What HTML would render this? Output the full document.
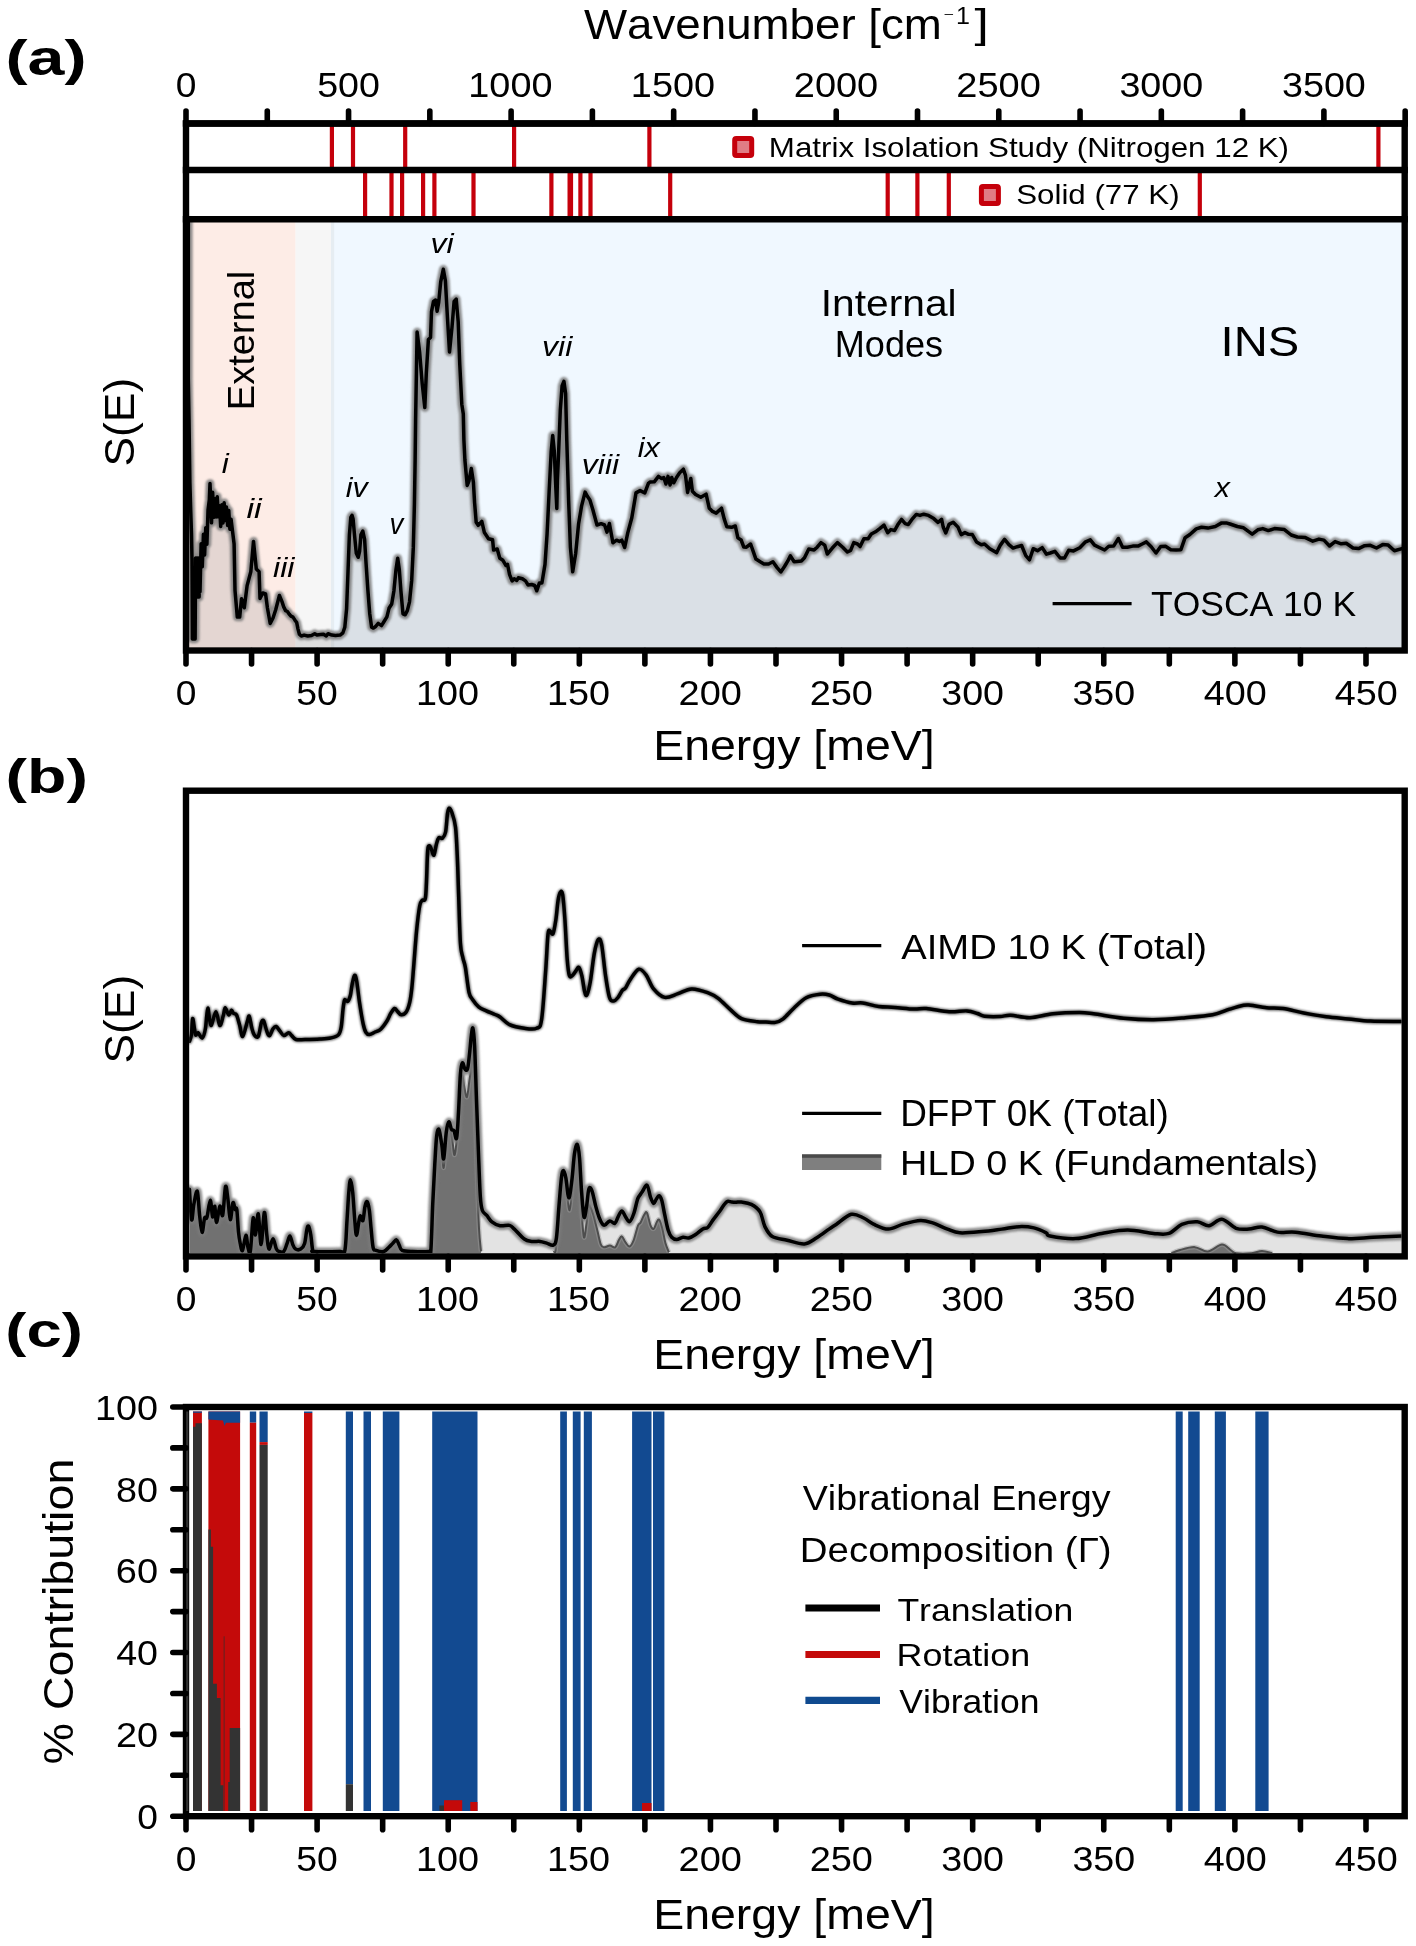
<!DOCTYPE html>
<html><head><meta charset="utf-8"><title>figure</title>
<style>
html,body{margin:0;padding:0;background:#fff;}
svg{display:block;will-change:transform;}
text{font-family:"Liberation Sans", sans-serif;font-kerning:none;}
</style></head>
<body>
<svg xmlns="http://www.w3.org/2000/svg" width="1416" height="1946" viewBox="0 0 1416 1946">
<rect width="1416" height="1946" fill="#fff"/>
<rect x="186" y="219.3" width="109.6" height="431.2" fill="#fdece6"/>
<rect x="295.6" y="219.3" width="35.4" height="431.2" fill="#f6f6f6"/>
<rect x="331" y="219.3" width="1073.7" height="431.2" fill="#f0f8ff"/>
<rect x="331" y="219.3" width="3.2" height="431.2" fill="#e6edf2"/>
<polygon points="188.3,647.3 188.3,221 188.3,378 189,419 189.9,483 190.7,510 191.5,534 192,560 192.4,639 192.85,568 193.3,639 193.75,568 194.2,639 194.65,568 195.1,639 195.6,558 196.1,597 196.6,558 197.1,597 197.6,558 198.1,597 198.6,558 199.1,597 199.6,558 200,591.76 201.15,543.87 202.3,566.75 203.45,534.27 204.6,555.03 205.75,527.79 206.9,544.14 208.05,509.62 209.3,500 210,483.5 210.7,500 211.5,522.85 212.65,492.28 213.8,517.27 214.95,498.84 216.1,516.96 217.25,496.75 218.4,516.86 219.55,505.69 220.7,526.52 221.85,504.77 223,522.93 224.15,502.85 225.3,520.5 226.45,507.11 227.6,525.47 228.75,510.46 229.9,529.24 231.05,519.21 234.1,544 235,590.3 237.3,617 239.7,617 241.5,598.7 244.3,607.8 247.1,585.6 250.8,571.8 253.5,541.4 256.3,569 259.1,571.8 260,598.5 262.8,593 265.6,594 267.4,607.8 270.2,623.5 273,618 275.7,609.7 279.4,595.5 281.9,601.4 283.7,606.9 285.6,610.6 287.4,611.5 289.3,614.3 291.1,616.2 293,617.1 294.8,619.9 296.7,622.6 298,629.1 299.4,634.2 301.3,636 304.1,635.1 307.8,636 311.5,635.5 314.7,633.7 317,635.1 320.7,634.6 323.5,634.2 326.3,636 328.1,633.7 331.8,635.1 335.5,635.5 340.1,635.1 342.9,632.8 344.8,627.3 346.6,608.8 348,571.8 349.4,534.8 350.8,517.3 352,515.3 353.1,519.1 354.5,534.8 356.3,553.3 358.2,557.3 359.6,551.4 360.9,534.8 362.8,531 364.6,539.4 366,562.5 367.9,590.3 369.7,613.4 371.6,627.2 373.4,628.1 375.3,626.8 378.2,623.4 381.5,625.6 383.6,622.3 386.9,616.9 389,608.3 391.7,604 393.9,591 396,569.4 397.7,558.3 399.3,569.4 400.9,591 403,613.8 405.2,614.8 407.4,610.4 409.5,601.8 411.7,580.2 413.3,547.9 414.4,504.7 415.1,461.6 415.6,420 416.4,373.3 417.1,332 419.7,352.8 422.2,383.6 424.8,407.5 426.3,373.3 428.4,339.4 430.5,337.4 431.5,311.7 433.5,301.4 435.6,300 437.1,311.2 438.7,302.4 440.7,281.8 443.3,269.3 445.4,280.8 447.4,316.8 449.5,352 452,327.1 454.1,301.4 456.2,299.1 458.2,321.9 459.7,363 461.8,404.2 463.3,414 463.9,440 464.9,460 467.2,485.4 468.9,481 471.3,468.5 473.4,482.2 474.6,502.8 476.2,522.3 478.2,525.4 481.8,521.3 484.4,532.6 488.5,538.7 492.6,539.8 493.6,550.1 497.2,549 499.8,558.3 502.9,560.3 506,565.5 507.5,564.4 509.6,574.7 512.1,580.9 514.2,578.8 516.8,580.4 518.3,577.8 522.4,578.8 525.5,580.9 528.1,585 531.7,584.5 534.7,585.5 536.8,590.8 539.4,582.9 541.9,583 545,564.4 547.1,533.6 549.1,492.5 551.2,451.4 552.7,435.4 554.3,451.4 555.8,487.4 556.8,508.5 557.4,480 558.6,452.7 560.3,410 562.1,386 563.9,381.3 565.6,393.6 566.8,440.9 568.6,500 570.4,547.3 572.7,571.8 575.7,553.2 578.6,523.7 581.6,505.9 585.1,492.1 587.5,496.5 589.9,500 592.8,509.5 597,525 601.1,523.7 604.6,525 607,532.1 609.4,523.5 612.9,542.8 616.5,540.2 619.4,541.4 621.8,540.2 624.7,547.5 627.7,533.1 631.8,517.8 636,492.9 640.1,490.6 644.8,492.9 648.4,483.3 650,482 654.2,481.8 658.5,476.4 661.7,478.6 663.8,477.5 665.9,484 668,476.4 670.1,485 671.7,477.5 673.8,482.8 676.5,477.5 679.7,472.8 683.4,469.2 685.5,475.4 687.6,492.4 689.2,485 690.8,478.5 692.4,491.3 695.6,494.5 700.8,497.2 706.1,494.2 709.3,508.3 712.5,511.4 716.2,513.1 721.5,508.2 724.2,518.9 726.8,526.8 731.6,527.3 735.3,526 737.9,537.9 741.1,540 743.8,547 746.4,547.2 750.6,544 753.3,551.7 755.9,559.1 760.2,561.8 763.9,564 768.6,564 772.9,561.8 777.1,567.6 780.8,571.9 784.5,566.5 787.7,561.2 790.4,555.9 794.1,561.8 797.1,561.5 801.4,561 804.5,557.8 808.8,549 814.1,549.9 817.2,547.2 821,542.6 824.7,545.1 827.3,554 832.1,548.3 837.4,542.6 842.7,547.2 847.4,552 850.6,550.4 853.8,542.6 857.5,544 860.1,546.6 863.9,538.8 868.1,538.7 871.3,534 875.5,531.8 879.7,528.7 884,525.2 887.7,532.8 890.9,529.6 894.6,530.5 898.3,523.9 901.5,519.4 905.2,523.6 908.3,524.6 912.6,518.6 916.3,514.4 920,515.4 923.7,514.2 928.5,515.4 933.8,518.6 938,522.4 941.6,519.4 943.2,527 945.8,533 949,524.4 953.2,522.2 958,527.1 961.2,534.6 964.9,532.6 968.6,534.3 972.3,534.5 976.5,541.9 981.3,544.8 984.5,544 989.8,548.8 996.7,552.6 1000.4,545.1 1004.6,539.3 1008.9,544.6 1013.1,548.1 1017.3,546.7 1021.6,545.5 1025.8,555.7 1029.5,559.8 1033.2,548.7 1037.5,550.7 1042.2,547.6 1046.5,554.2 1050.2,553 1054.9,551.3 1060.2,558 1064.5,558 1068.7,550.3 1073.5,550.9 1079.8,547.7 1085.1,542.2 1090.3,539.8 1094.5,545.1 1099.8,547.7 1104.6,550 1108.8,546.3 1113.6,546.1 1118.4,538.5 1122.6,547.3 1127.4,547.2 1132.7,546.1 1138,546.1 1142.2,544 1146.4,541.9 1151.2,546.7 1156,553 1160.7,546.5 1165.5,546.3 1170.8,549.7 1176.1,549.9 1180.9,549.7 1185.1,537.7 1189.9,534.5 1196.2,528.9 1201.5,527.3 1207.9,528.1 1215.3,526.5 1221.7,522.9 1227,523.1 1230,524 1237.4,526.5 1243.6,527.8 1252.2,534.2 1257.8,529.8 1262.8,528.6 1268.3,530.6 1274.5,528.6 1284.4,529.6 1291.2,535 1297.4,537 1305.4,537.6 1312.8,541.2 1319,539.1 1323.9,540.1 1329.5,546 1335.1,541.6 1341.2,543.8 1346.2,543.2 1353,548 1358.6,548.6 1364.7,545.7 1370.3,545.3 1376.5,548 1382.7,544.6 1388.2,545.1 1394.4,550.8 1402,548.6 1402,647.3" fill="#808080" fill-opacity="0.2"/>
<defs><filter id="bl1" x="-5%" y="-20%" width="110%" height="140%"><feGaussianBlur stdDeviation="1.1"/></filter></defs>
<polyline points="188.3,221 188.3,378 189,419 189.9,483 190.7,510 191.5,534 192,560 192.4,639 192.85,568 193.3,639 193.75,568 194.2,639 194.65,568 195.1,639 195.6,558 196.1,597 196.6,558 197.1,597 197.6,558 198.1,597 198.6,558 199.1,597 199.6,558 200,591.76 201.15,543.87 202.3,566.75 203.45,534.27 204.6,555.03 205.75,527.79 206.9,544.14 208.05,509.62 209.3,500 210,483.5 210.7,500 211.5,522.85 212.65,492.28 213.8,517.27 214.95,498.84 216.1,516.96 217.25,496.75 218.4,516.86 219.55,505.69 220.7,526.52 221.85,504.77 223,522.93 224.15,502.85 225.3,520.5 226.45,507.11 227.6,525.47 228.75,510.46 229.9,529.24 231.05,519.21 234.1,544 235,590.3 237.3,617 239.7,617 241.5,598.7 244.3,607.8 247.1,585.6 250.8,571.8 253.5,541.4 256.3,569 259.1,571.8 260,598.5 262.8,593 265.6,594 267.4,607.8 270.2,623.5 273,618 275.7,609.7 279.4,595.5 281.9,601.4 283.7,606.9 285.6,610.6 287.4,611.5 289.3,614.3 291.1,616.2 293,617.1 294.8,619.9 296.7,622.6 298,629.1 299.4,634.2 301.3,636 304.1,635.1 307.8,636 311.5,635.5 314.7,633.7 317,635.1 320.7,634.6 323.5,634.2 326.3,636 328.1,633.7 331.8,635.1 335.5,635.5 340.1,635.1 342.9,632.8 344.8,627.3 346.6,608.8 348,571.8 349.4,534.8 350.8,517.3 352,515.3 353.1,519.1 354.5,534.8 356.3,553.3 358.2,557.3 359.6,551.4 360.9,534.8 362.8,531 364.6,539.4 366,562.5 367.9,590.3 369.7,613.4 371.6,627.2 373.4,628.1 375.3,626.8 378.2,623.4 381.5,625.6 383.6,622.3 386.9,616.9 389,608.3 391.7,604 393.9,591 396,569.4 397.7,558.3 399.3,569.4 400.9,591 403,613.8 405.2,614.8 407.4,610.4 409.5,601.8 411.7,580.2 413.3,547.9 414.4,504.7 415.1,461.6 415.6,420 416.4,373.3 417.1,332 419.7,352.8 422.2,383.6 424.8,407.5 426.3,373.3 428.4,339.4 430.5,337.4 431.5,311.7 433.5,301.4 435.6,300 437.1,311.2 438.7,302.4 440.7,281.8 443.3,269.3 445.4,280.8 447.4,316.8 449.5,352 452,327.1 454.1,301.4 456.2,299.1 458.2,321.9 459.7,363 461.8,404.2 463.3,414 463.9,440 464.9,460 467.2,485.4 468.9,481 471.3,468.5 473.4,482.2 474.6,502.8 476.2,522.3 478.2,525.4 481.8,521.3 484.4,532.6 488.5,538.7 492.6,539.8 493.6,550.1 497.2,549 499.8,558.3 502.9,560.3 506,565.5 507.5,564.4 509.6,574.7 512.1,580.9 514.2,578.8 516.8,580.4 518.3,577.8 522.4,578.8 525.5,580.9 528.1,585 531.7,584.5 534.7,585.5 536.8,590.8 539.4,582.9 541.9,583 545,564.4 547.1,533.6 549.1,492.5 551.2,451.4 552.7,435.4 554.3,451.4 555.8,487.4 556.8,508.5 557.4,480 558.6,452.7 560.3,410 562.1,386 563.9,381.3 565.6,393.6 566.8,440.9 568.6,500 570.4,547.3 572.7,571.8 575.7,553.2 578.6,523.7 581.6,505.9 585.1,492.1 587.5,496.5 589.9,500 592.8,509.5 597,525 601.1,523.7 604.6,525 607,532.1 609.4,523.5 612.9,542.8 616.5,540.2 619.4,541.4 621.8,540.2 624.7,547.5 627.7,533.1 631.8,517.8 636,492.9 640.1,490.6 644.8,492.9 648.4,483.3 650,482 654.2,481.8 658.5,476.4 661.7,478.6 663.8,477.5 665.9,484 668,476.4 670.1,485 671.7,477.5 673.8,482.8 676.5,477.5 679.7,472.8 683.4,469.2 685.5,475.4 687.6,492.4 689.2,485 690.8,478.5 692.4,491.3 695.6,494.5 700.8,497.2 706.1,494.2 709.3,508.3 712.5,511.4 716.2,513.1 721.5,508.2 724.2,518.9 726.8,526.8 731.6,527.3 735.3,526 737.9,537.9 741.1,540 743.8,547 746.4,547.2 750.6,544 753.3,551.7 755.9,559.1 760.2,561.8 763.9,564 768.6,564 772.9,561.8 777.1,567.6 780.8,571.9 784.5,566.5 787.7,561.2 790.4,555.9 794.1,561.8 797.1,561.5 801.4,561 804.5,557.8 808.8,549 814.1,549.9 817.2,547.2 821,542.6 824.7,545.1 827.3,554 832.1,548.3 837.4,542.6 842.7,547.2 847.4,552 850.6,550.4 853.8,542.6 857.5,544 860.1,546.6 863.9,538.8 868.1,538.7 871.3,534 875.5,531.8 879.7,528.7 884,525.2 887.7,532.8 890.9,529.6 894.6,530.5 898.3,523.9 901.5,519.4 905.2,523.6 908.3,524.6 912.6,518.6 916.3,514.4 920,515.4 923.7,514.2 928.5,515.4 933.8,518.6 938,522.4 941.6,519.4 943.2,527 945.8,533 949,524.4 953.2,522.2 958,527.1 961.2,534.6 964.9,532.6 968.6,534.3 972.3,534.5 976.5,541.9 981.3,544.8 984.5,544 989.8,548.8 996.7,552.6 1000.4,545.1 1004.6,539.3 1008.9,544.6 1013.1,548.1 1017.3,546.7 1021.6,545.5 1025.8,555.7 1029.5,559.8 1033.2,548.7 1037.5,550.7 1042.2,547.6 1046.5,554.2 1050.2,553 1054.9,551.3 1060.2,558 1064.5,558 1068.7,550.3 1073.5,550.9 1079.8,547.7 1085.1,542.2 1090.3,539.8 1094.5,545.1 1099.8,547.7 1104.6,550 1108.8,546.3 1113.6,546.1 1118.4,538.5 1122.6,547.3 1127.4,547.2 1132.7,546.1 1138,546.1 1142.2,544 1146.4,541.9 1151.2,546.7 1156,553 1160.7,546.5 1165.5,546.3 1170.8,549.7 1176.1,549.9 1180.9,549.7 1185.1,537.7 1189.9,534.5 1196.2,528.9 1201.5,527.3 1207.9,528.1 1215.3,526.5 1221.7,522.9 1227,523.1 1230,524 1237.4,526.5 1243.6,527.8 1252.2,534.2 1257.8,529.8 1262.8,528.6 1268.3,530.6 1274.5,528.6 1284.4,529.6 1291.2,535 1297.4,537 1305.4,537.6 1312.8,541.2 1319,539.1 1323.9,540.1 1329.5,546 1335.1,541.6 1341.2,543.8 1346.2,543.2 1353,548 1358.6,548.6 1364.7,545.7 1370.3,545.3 1376.5,548 1382.7,544.6 1388.2,545.1 1394.4,550.8 1402,548.6" fill="none" stroke="#7a7a7a" stroke-opacity="0.85" stroke-width="8.6" stroke-linejoin="round" stroke-linecap="round" filter="url(#bl1)"/>
<polyline points="188.3,221 188.3,378 189,419 189.9,483 190.7,510 191.5,534 192,560 192.4,639 192.85,568 193.3,639 193.75,568 194.2,639 194.65,568 195.1,639 195.6,558 196.1,597 196.6,558 197.1,597 197.6,558 198.1,597 198.6,558 199.1,597 199.6,558 200,591.76 201.15,543.87 202.3,566.75 203.45,534.27 204.6,555.03 205.75,527.79 206.9,544.14 208.05,509.62 209.3,500 210,483.5 210.7,500 211.5,522.85 212.65,492.28 213.8,517.27 214.95,498.84 216.1,516.96 217.25,496.75 218.4,516.86 219.55,505.69 220.7,526.52 221.85,504.77 223,522.93 224.15,502.85 225.3,520.5 226.45,507.11 227.6,525.47 228.75,510.46 229.9,529.24 231.05,519.21 234.1,544 235,590.3 237.3,617 239.7,617 241.5,598.7 244.3,607.8 247.1,585.6 250.8,571.8 253.5,541.4 256.3,569 259.1,571.8 260,598.5 262.8,593 265.6,594 267.4,607.8 270.2,623.5 273,618 275.7,609.7 279.4,595.5 281.9,601.4 283.7,606.9 285.6,610.6 287.4,611.5 289.3,614.3 291.1,616.2 293,617.1 294.8,619.9 296.7,622.6 298,629.1 299.4,634.2 301.3,636 304.1,635.1 307.8,636 311.5,635.5 314.7,633.7 317,635.1 320.7,634.6 323.5,634.2 326.3,636 328.1,633.7 331.8,635.1 335.5,635.5 340.1,635.1 342.9,632.8 344.8,627.3 346.6,608.8 348,571.8 349.4,534.8 350.8,517.3 352,515.3 353.1,519.1 354.5,534.8 356.3,553.3 358.2,557.3 359.6,551.4 360.9,534.8 362.8,531 364.6,539.4 366,562.5 367.9,590.3 369.7,613.4 371.6,627.2 373.4,628.1 375.3,626.8 378.2,623.4 381.5,625.6 383.6,622.3 386.9,616.9 389,608.3 391.7,604 393.9,591 396,569.4 397.7,558.3 399.3,569.4 400.9,591 403,613.8 405.2,614.8 407.4,610.4 409.5,601.8 411.7,580.2 413.3,547.9 414.4,504.7 415.1,461.6 415.6,420 416.4,373.3 417.1,332 419.7,352.8 422.2,383.6 424.8,407.5 426.3,373.3 428.4,339.4 430.5,337.4 431.5,311.7 433.5,301.4 435.6,300 437.1,311.2 438.7,302.4 440.7,281.8 443.3,269.3 445.4,280.8 447.4,316.8 449.5,352 452,327.1 454.1,301.4 456.2,299.1 458.2,321.9 459.7,363 461.8,404.2 463.3,414 463.9,440 464.9,460 467.2,485.4 468.9,481 471.3,468.5 473.4,482.2 474.6,502.8 476.2,522.3 478.2,525.4 481.8,521.3 484.4,532.6 488.5,538.7 492.6,539.8 493.6,550.1 497.2,549 499.8,558.3 502.9,560.3 506,565.5 507.5,564.4 509.6,574.7 512.1,580.9 514.2,578.8 516.8,580.4 518.3,577.8 522.4,578.8 525.5,580.9 528.1,585 531.7,584.5 534.7,585.5 536.8,590.8 539.4,582.9 541.9,583 545,564.4 547.1,533.6 549.1,492.5 551.2,451.4 552.7,435.4 554.3,451.4 555.8,487.4 556.8,508.5 557.4,480 558.6,452.7 560.3,410 562.1,386 563.9,381.3 565.6,393.6 566.8,440.9 568.6,500 570.4,547.3 572.7,571.8 575.7,553.2 578.6,523.7 581.6,505.9 585.1,492.1 587.5,496.5 589.9,500 592.8,509.5 597,525 601.1,523.7 604.6,525 607,532.1 609.4,523.5 612.9,542.8 616.5,540.2 619.4,541.4 621.8,540.2 624.7,547.5 627.7,533.1 631.8,517.8 636,492.9 640.1,490.6 644.8,492.9 648.4,483.3 650,482 654.2,481.8 658.5,476.4 661.7,478.6 663.8,477.5 665.9,484 668,476.4 670.1,485 671.7,477.5 673.8,482.8 676.5,477.5 679.7,472.8 683.4,469.2 685.5,475.4 687.6,492.4 689.2,485 690.8,478.5 692.4,491.3 695.6,494.5 700.8,497.2 706.1,494.2 709.3,508.3 712.5,511.4 716.2,513.1 721.5,508.2 724.2,518.9 726.8,526.8 731.6,527.3 735.3,526 737.9,537.9 741.1,540 743.8,547 746.4,547.2 750.6,544 753.3,551.7 755.9,559.1 760.2,561.8 763.9,564 768.6,564 772.9,561.8 777.1,567.6 780.8,571.9 784.5,566.5 787.7,561.2 790.4,555.9 794.1,561.8 797.1,561.5 801.4,561 804.5,557.8 808.8,549 814.1,549.9 817.2,547.2 821,542.6 824.7,545.1 827.3,554 832.1,548.3 837.4,542.6 842.7,547.2 847.4,552 850.6,550.4 853.8,542.6 857.5,544 860.1,546.6 863.9,538.8 868.1,538.7 871.3,534 875.5,531.8 879.7,528.7 884,525.2 887.7,532.8 890.9,529.6 894.6,530.5 898.3,523.9 901.5,519.4 905.2,523.6 908.3,524.6 912.6,518.6 916.3,514.4 920,515.4 923.7,514.2 928.5,515.4 933.8,518.6 938,522.4 941.6,519.4 943.2,527 945.8,533 949,524.4 953.2,522.2 958,527.1 961.2,534.6 964.9,532.6 968.6,534.3 972.3,534.5 976.5,541.9 981.3,544.8 984.5,544 989.8,548.8 996.7,552.6 1000.4,545.1 1004.6,539.3 1008.9,544.6 1013.1,548.1 1017.3,546.7 1021.6,545.5 1025.8,555.7 1029.5,559.8 1033.2,548.7 1037.5,550.7 1042.2,547.6 1046.5,554.2 1050.2,553 1054.9,551.3 1060.2,558 1064.5,558 1068.7,550.3 1073.5,550.9 1079.8,547.7 1085.1,542.2 1090.3,539.8 1094.5,545.1 1099.8,547.7 1104.6,550 1108.8,546.3 1113.6,546.1 1118.4,538.5 1122.6,547.3 1127.4,547.2 1132.7,546.1 1138,546.1 1142.2,544 1146.4,541.9 1151.2,546.7 1156,553 1160.7,546.5 1165.5,546.3 1170.8,549.7 1176.1,549.9 1180.9,549.7 1185.1,537.7 1189.9,534.5 1196.2,528.9 1201.5,527.3 1207.9,528.1 1215.3,526.5 1221.7,522.9 1227,523.1 1230,524 1237.4,526.5 1243.6,527.8 1252.2,534.2 1257.8,529.8 1262.8,528.6 1268.3,530.6 1274.5,528.6 1284.4,529.6 1291.2,535 1297.4,537 1305.4,537.6 1312.8,541.2 1319,539.1 1323.9,540.1 1329.5,546 1335.1,541.6 1341.2,543.8 1346.2,543.2 1353,548 1358.6,548.6 1364.7,545.7 1370.3,545.3 1376.5,548 1382.7,544.6 1388.2,545.1 1394.4,550.8 1402,548.6" fill="none" stroke="#000" stroke-width="3.5" stroke-linejoin="round" stroke-linecap="round"/>
<line x1="331.9" y1="123.5" x2="331.9" y2="170" stroke="#c5000b" stroke-width="4.2"/>
<line x1="353" y1="123.5" x2="353" y2="170" stroke="#c5000b" stroke-width="4.2"/>
<line x1="405.2" y1="123.5" x2="405.2" y2="170" stroke="#c5000b" stroke-width="4.2"/>
<line x1="514.1" y1="123.5" x2="514.1" y2="170" stroke="#c5000b" stroke-width="4.2"/>
<line x1="649.4" y1="123.5" x2="649.4" y2="170" stroke="#c5000b" stroke-width="4.2"/>
<line x1="1378.4" y1="123.5" x2="1378.4" y2="170" stroke="#c5000b" stroke-width="4.2"/>
<line x1="365.1" y1="170" x2="365.1" y2="219.3" stroke="#c5000b" stroke-width="4.2"/>
<line x1="391.5" y1="170" x2="391.5" y2="219.3" stroke="#c5000b" stroke-width="4.2"/>
<line x1="402.1" y1="170" x2="402.1" y2="219.3" stroke="#c5000b" stroke-width="4.2"/>
<line x1="423.1" y1="170" x2="423.1" y2="219.3" stroke="#c5000b" stroke-width="4.2"/>
<line x1="434.4" y1="170" x2="434.4" y2="219.3" stroke="#c5000b" stroke-width="4.2"/>
<line x1="473.5" y1="170" x2="473.5" y2="219.3" stroke="#c5000b" stroke-width="4.2"/>
<line x1="551.4" y1="170" x2="551.4" y2="219.3" stroke="#c5000b" stroke-width="4.2"/>
<line x1="570.3" y1="170" x2="570.3" y2="219.3" stroke="#c5000b" stroke-width="5.6"/>
<line x1="580.4" y1="170" x2="580.4" y2="219.3" stroke="#c5000b" stroke-width="4.2"/>
<line x1="590.5" y1="170" x2="590.5" y2="219.3" stroke="#c5000b" stroke-width="4.2"/>
<line x1="670.2" y1="170" x2="670.2" y2="219.3" stroke="#c5000b" stroke-width="4.2"/>
<line x1="887.7" y1="170" x2="887.7" y2="219.3" stroke="#c5000b" stroke-width="4.2"/>
<line x1="917.4" y1="170" x2="917.4" y2="219.3" stroke="#c5000b" stroke-width="4.2"/>
<line x1="948.8" y1="170" x2="948.8" y2="219.3" stroke="#c5000b" stroke-width="4.2"/>
<line x1="1199.8" y1="170" x2="1199.8" y2="219.3" stroke="#c5000b" stroke-width="4.2"/>
<rect x="734.7" y="138.5" width="17" height="17" rx="1.5" fill="#e07c84" stroke="#c5000b" stroke-width="5"/>
<rect x="981.4" y="186.4" width="17" height="17" rx="1.5" fill="#e07c84" stroke="#c5000b" stroke-width="5"/>
<text transform="translate(768.83 156.6) scale(1.1709 1)" font-size="26.74" fill="#000">Matrix Isolation Study (Nitrogen 12 K)</text>
<text transform="translate(1016.18 204) scale(1.1270 1)" font-size="27.76" fill="#000">Solid (77 K)</text>
<line x1="182.8" y1="123.5" x2="1407.9" y2="123.5" stroke="#000" stroke-width="6.4"/>
<line x1="182.8" y1="170" x2="1407.9" y2="170" stroke="#000" stroke-width="6.4"/>
<line x1="182.8" y1="219.3" x2="1407.9" y2="219.3" stroke="#000" stroke-width="6.4"/>
<line x1="186" y1="123.5" x2="186" y2="111" stroke="#000" stroke-width="5.6" stroke-linecap="round"/>
<text transform="translate(175.66 96.85) scale(1.0450 1)" font-size="35.59" fill="#000">0</text>
<line x1="267.28" y1="123.5" x2="267.28" y2="111" stroke="#000" stroke-width="5.6" stroke-linecap="round"/>
<line x1="348.56" y1="123.5" x2="348.56" y2="111" stroke="#000" stroke-width="5.6" stroke-linecap="round"/>
<text transform="translate(317.16 96.85) scale(1.0567 1)" font-size="35.59" fill="#000">500</text>
<line x1="429.83" y1="123.5" x2="429.83" y2="111" stroke="#000" stroke-width="5.6" stroke-linecap="round"/>
<line x1="511.11" y1="123.5" x2="511.11" y2="111" stroke="#000" stroke-width="5.6" stroke-linecap="round"/>
<text transform="translate(468.29 96.85) scale(1.0639 1)" font-size="35.59" fill="#000">1000</text>
<line x1="592.39" y1="123.5" x2="592.39" y2="111" stroke="#000" stroke-width="5.6" stroke-linecap="round"/>
<line x1="673.67" y1="123.5" x2="673.67" y2="111" stroke="#000" stroke-width="5.6" stroke-linecap="round"/>
<text transform="translate(630.85 96.85) scale(1.0639 1)" font-size="35.59" fill="#000">1500</text>
<line x1="754.95" y1="123.5" x2="754.95" y2="111" stroke="#000" stroke-width="5.6" stroke-linecap="round"/>
<line x1="836.23" y1="123.5" x2="836.23" y2="111" stroke="#000" stroke-width="5.6" stroke-linecap="round"/>
<text transform="translate(793.77 96.85) scale(1.0671 1)" font-size="35.59" fill="#000">2000</text>
<line x1="917.5" y1="123.5" x2="917.5" y2="111" stroke="#000" stroke-width="5.6" stroke-linecap="round"/>
<line x1="998.78" y1="123.5" x2="998.78" y2="111" stroke="#000" stroke-width="5.6" stroke-linecap="round"/>
<text transform="translate(956.32 96.85) scale(1.0671 1)" font-size="35.59" fill="#000">2500</text>
<line x1="1080.06" y1="123.5" x2="1080.06" y2="111" stroke="#000" stroke-width="5.6" stroke-linecap="round"/>
<line x1="1161.34" y1="123.5" x2="1161.34" y2="111" stroke="#000" stroke-width="5.6" stroke-linecap="round"/>
<text transform="translate(1119.4 96.85) scale(1.0597 1)" font-size="35.59" fill="#000">3000</text>
<line x1="1242.62" y1="123.5" x2="1242.62" y2="111" stroke="#000" stroke-width="5.6" stroke-linecap="round"/>
<line x1="1323.9" y1="123.5" x2="1323.9" y2="111" stroke="#000" stroke-width="5.6" stroke-linecap="round"/>
<text transform="translate(1281.96 96.85) scale(1.0597 1)" font-size="35.59" fill="#000">3500</text>
<line x1="1405.17" y1="123.5" x2="1405.17" y2="111" stroke="#000" stroke-width="5.6" stroke-linecap="round"/>
<text transform="translate(584 38.8) scale(1.0653 1)" font-size="42.88" fill="#000">Wavenumber [cm</text>
<text transform="translate(942.95 17) scale(3.1200 1)" font-size="11.16" fill="#000">-</text>
<text transform="translate(956.09 24.3) scale(1.0508 1)" font-size="23.84" fill="#000">1</text>
<text transform="translate(974.6 37.8) scale(1.2524 1)" font-size="40.98" fill="#000">]</text>
<text transform="translate(5.49 74.78) scale(1.3478 1)" font-size="49.24" fill="#000" font-weight="bold">(a)</text>
<rect x="186" y="123.5" width="1218.7" height="527" fill="none" stroke="#000" stroke-width="6.4"/>
<line x1="186" y1="650.5" x2="186" y2="664" stroke="#000" stroke-width="5.6" stroke-linecap="round"/>
<text transform="translate(175.66 704.85) scale(1.0450 1)" font-size="35.59" fill="#000">0</text>
<line x1="251.56" y1="650.5" x2="251.56" y2="664" stroke="#000" stroke-width="5.6" stroke-linecap="round"/>
<line x1="317.11" y1="650.5" x2="317.11" y2="664" stroke="#000" stroke-width="5.6" stroke-linecap="round"/>
<text transform="translate(296.32 704.85) scale(1.0494 1)" font-size="35.59" fill="#000">50</text>
<line x1="382.66" y1="650.5" x2="382.66" y2="664" stroke="#000" stroke-width="5.6" stroke-linecap="round"/>
<line x1="448.22" y1="650.5" x2="448.22" y2="664" stroke="#000" stroke-width="5.6" stroke-linecap="round"/>
<text transform="translate(416 704.85) scale(1.0616 1)" font-size="35.59" fill="#000">100</text>
<line x1="513.77" y1="650.5" x2="513.77" y2="664" stroke="#000" stroke-width="5.6" stroke-linecap="round"/>
<line x1="579.33" y1="650.5" x2="579.33" y2="664" stroke="#000" stroke-width="5.6" stroke-linecap="round"/>
<text transform="translate(547.11 704.85) scale(1.0616 1)" font-size="35.59" fill="#000">150</text>
<line x1="644.88" y1="650.5" x2="644.88" y2="664" stroke="#000" stroke-width="5.6" stroke-linecap="round"/>
<line x1="710.44" y1="650.5" x2="710.44" y2="664" stroke="#000" stroke-width="5.6" stroke-linecap="round"/>
<text transform="translate(678.58 704.85) scale(1.0659 1)" font-size="35.59" fill="#000">200</text>
<line x1="776" y1="650.5" x2="776" y2="664" stroke="#000" stroke-width="5.6" stroke-linecap="round"/>
<line x1="841.55" y1="650.5" x2="841.55" y2="664" stroke="#000" stroke-width="5.6" stroke-linecap="round"/>
<text transform="translate(809.69 704.85) scale(1.0659 1)" font-size="35.59" fill="#000">250</text>
<line x1="907.11" y1="650.5" x2="907.11" y2="664" stroke="#000" stroke-width="5.6" stroke-linecap="round"/>
<line x1="972.66" y1="650.5" x2="972.66" y2="664" stroke="#000" stroke-width="5.6" stroke-linecap="round"/>
<text transform="translate(941.32 704.85) scale(1.0560 1)" font-size="35.59" fill="#000">300</text>
<line x1="1038.21" y1="650.5" x2="1038.21" y2="664" stroke="#000" stroke-width="5.6" stroke-linecap="round"/>
<line x1="1103.77" y1="650.5" x2="1103.77" y2="664" stroke="#000" stroke-width="5.6" stroke-linecap="round"/>
<text transform="translate(1072.43 704.85) scale(1.0560 1)" font-size="35.59" fill="#000">350</text>
<line x1="1169.32" y1="650.5" x2="1169.32" y2="664" stroke="#000" stroke-width="5.6" stroke-linecap="round"/>
<line x1="1234.88" y1="650.5" x2="1234.88" y2="664" stroke="#000" stroke-width="5.6" stroke-linecap="round"/>
<text transform="translate(1203.65 704.85) scale(1.0620 1)" font-size="35.59" fill="#000">400</text>
<line x1="1300.43" y1="650.5" x2="1300.43" y2="664" stroke="#000" stroke-width="5.6" stroke-linecap="round"/>
<line x1="1365.99" y1="650.5" x2="1365.99" y2="664" stroke="#000" stroke-width="5.6" stroke-linecap="round"/>
<text transform="translate(1334.76 704.85) scale(1.0620 1)" font-size="35.59" fill="#000">450</text>
<text transform="translate(653.19 759.8) scale(1.0805 1)" font-size="43.02" fill="#000">Energy [meV]</text>
<text transform="translate(133.6 466.52) rotate(-90) scale(1.0457 1)" font-size="42.44" fill="#000">S(E)</text>
<text transform="translate(254.3 410.22) rotate(-90) scale(1.0054 1)" font-size="37.81" fill="#000">External</text>
<text transform="translate(820.74 315.6) scale(1.1167 1)" font-size="36.48" fill="#000">Internal</text>
<text transform="translate(834.74 356.8) scale(0.9857 1)" font-size="36.63" fill="#000">Modes</text>
<text transform="translate(1220.55 355.6) scale(1.1345 1)" font-size="41.57" fill="#000">INS</text>
<line x1="1052.6" y1="603.6" x2="1131.6" y2="603.6" stroke="#000" stroke-width="3.3"/>
<text transform="translate(1151 615.6) scale(1.0263 1)" font-size="34.59" fill="#000">TOSCA 10 K</text>
<text transform="translate(221.69 473.4) scale(1.1768 1)" font-size="26.77" fill="#000" font-style="italic">i</text>
<text transform="translate(246.45 517.7) scale(1.2780 1)" font-size="26.91" fill="#000" font-style="italic">ii</text>
<text transform="translate(273.08 576.7) scale(1.1748 1)" font-size="27.33" fill="#000" font-style="italic">iii</text>
<text transform="translate(345.71 496.9) scale(1.1337 1)" font-size="26.91" fill="#000" font-style="italic">iv</text>
<text transform="translate(389.39 534.3) scale(0.9461 1)" font-size="29.15" fill="#000" font-style="italic">v</text>
<text transform="translate(430.54 252.8) scale(1.1542 1)" font-size="27.88" fill="#000" font-style="italic">vi</text>
<text transform="translate(542.05 355.8) scale(1.1599 1)" font-size="27.6" fill="#000" font-style="italic">vii</text>
<text transform="translate(581.85 473.5) scale(1.1739 1)" font-size="27.19" fill="#000" font-style="italic">viii</text>
<text transform="translate(637.81 457.3) scale(1.1429 1)" font-size="26.77" fill="#000" font-style="italic">ix</text>
<text transform="translate(1214.72 496.7) scale(1.0847 1)" font-size="28.01" fill="#000" font-style="italic">x</text>
<clipPath id="cb"><rect x="189.2" y="793.7" width="1212.3" height="459.3"/></clipPath>
<g clip-path="url(#cb)">
<path d="M189.2,1253 L189.4,1189.2 C189.77,1194.28 190.85,1217.25 191.6,1219.7 C192.35,1222.15 192.95,1208.63 193.9,1203.9 C194.85,1199.17 196.35,1189.42 197.3,1191.3 C198.25,1193.18 198.8,1208.37 199.6,1215.2 C200.4,1222.03 201.27,1231.83 202.1,1232.3 C202.93,1232.77 203.8,1220.47 204.6,1218 C205.4,1215.53 205.95,1220.45 206.9,1217.5 C207.85,1214.55 209.35,1200.4 210.3,1200.3 C211.25,1200.2 211.85,1215.92 212.6,1216.9 C213.35,1217.88 214.15,1205.27 214.8,1206.2 C215.45,1207.13 215.65,1222.5 216.5,1222.5 C217.35,1222.5 218.87,1207.42 219.9,1206.2 C220.93,1204.98 221.77,1218.43 222.7,1215.2 C223.63,1211.97 224.65,1189.63 225.5,1186.8 C226.35,1183.97 227,1192.72 227.8,1198.2 C228.6,1203.68 229.45,1218.93 230.3,1219.7 C231.15,1220.47 232.08,1204.5 232.9,1202.8 C233.72,1201.1 234.55,1208.38 235.2,1209.5 C235.85,1210.62 236.25,1205.73 236.8,1209.5 C237.35,1213.27 237.93,1226.45 238.5,1232.1 C239.07,1237.75 239.53,1240.33 240.2,1243.4 C240.87,1246.47 241.55,1251.85 242.5,1250.5 C243.45,1249.15 244.97,1235.72 245.9,1235.3 C246.83,1234.88 247.35,1245.38 248.1,1248 C248.85,1250.62 249.55,1256 250.4,1251 C251.25,1246 252.35,1220.67 253.2,1218 C254.05,1215.33 254.65,1235.68 255.5,1235 C256.35,1234.32 257.37,1212.3 258.3,1213.9 C259.23,1215.5 260.1,1244.83 261.1,1244.6 C262.1,1244.37 263.35,1214.1 264.3,1212.5 C265.25,1210.9 266.02,1228.9 266.8,1235 C267.58,1241.1 267.97,1248.48 269,1249.1 C270.03,1249.72 271.77,1238.7 273,1238.7 C274.23,1238.7 275.37,1246.97 276.4,1249.1 C277.43,1251.23 277.98,1251.1 279.2,1251.5 C280.42,1251.9 282.38,1252.85 283.7,1251.5 C285.02,1250.15 286.07,1246 287.1,1243.4 C288.13,1240.8 288.95,1235.7 289.9,1235.9 C290.85,1236.1 291.85,1242.4 292.8,1244.6 C293.75,1246.8 294.28,1248.35 295.6,1249.1 C296.92,1249.85 299.2,1250.05 300.7,1249.1 C302.2,1248.15 303.57,1246.7 304.6,1243.4 C305.63,1240.1 306.23,1232.15 306.9,1229.3 C307.57,1226.45 307.95,1225.35 308.6,1226.3 C309.25,1227.25 310.15,1231.2 310.8,1235 C311.45,1238.8 311.93,1246.35 312.5,1249.1 C313.07,1251.85 309.62,1251.1 314.2,1251.5 C318.78,1251.9 334.88,1251.7 340,1251.5 C345.12,1251.3 343.73,1255.45 344.9,1250.3 C346.07,1245.15 346.35,1230.25 347,1220.6 C347.65,1210.95 348.22,1199.22 348.8,1192.4 C349.38,1185.58 349.85,1179.7 350.5,1179.7 C351.15,1179.7 351.98,1185.58 352.7,1192.4 C353.42,1199.22 354.17,1213.43 354.8,1220.6 C355.43,1227.77 355.8,1235.4 356.5,1235.4 C357.2,1235.4 358.35,1223.88 359,1220.6 C359.65,1217.32 359.75,1215.7 360.4,1215.7 C361.05,1215.7 362.13,1222.13 362.9,1220.6 C363.67,1219.07 364.3,1209.67 365,1206.5 C365.7,1203.33 366.38,1201.02 367.1,1201.6 C367.82,1202.18 368.65,1205.65 369.3,1210 C369.95,1214.35 370.37,1221.45 371,1227.7 C371.63,1233.95 372.27,1243.73 373.1,1247.5 C373.93,1251.27 374.23,1249.63 376,1250.3 C377.77,1250.97 381.58,1251.97 383.7,1251.5 C385.82,1251.03 387.17,1248.88 388.7,1247.5 C390.23,1246.12 391.62,1244.48 392.9,1243.2 C394.18,1241.92 395.33,1239.45 396.4,1239.8 C397.47,1240.15 398.35,1243.55 399.3,1245.3 C400.25,1247.05 399.87,1249.27 402.1,1250.3 C404.33,1251.33 408.23,1251.3 412.7,1251.5 C417.17,1251.7 425.87,1251.75 428.9,1251.5 C431.93,1251.25 430.25,1258.15 430.9,1250 C431.55,1241.85 432.15,1216.93 432.8,1202.6 C433.45,1188.27 434.15,1175.13 434.8,1164 C435.45,1152.87 436,1141.53 436.7,1135.8 C437.4,1130.07 438.15,1128.1 439,1129.6 C439.85,1131.1 441.02,1139.95 441.8,1144.8 C442.58,1149.65 442.95,1160.83 443.7,1158.7 C444.45,1156.57 445.43,1138.13 446.3,1132 C447.17,1125.87 448.03,1122.33 448.9,1121.9 C449.77,1121.47 450.65,1127.93 451.5,1129.4 C452.35,1130.87 453.15,1129.23 454,1130.7 C454.85,1132.17 455.85,1141.2 456.6,1138.2 C457.35,1135.2 457.87,1123.37 458.5,1112.7 C459.13,1102.03 459.75,1082.52 460.4,1074.2 C461.05,1065.88 461.65,1063.67 462.4,1062.8 C463.15,1061.93 464.05,1067.97 464.9,1069 C465.75,1070.03 466.75,1071.35 467.5,1069 C468.25,1066.65 468.77,1060.45 469.4,1054.9 C470.03,1049.35 470.72,1040.15 471.3,1035.7 C471.88,1031.25 472.35,1026.5 472.9,1028.2 C473.45,1029.9 474,1033.95 474.6,1045.9 C475.2,1057.85 475.87,1082.35 476.5,1099.9 C477.13,1117.45 477.77,1135.17 478.4,1151.2 C479.03,1167.23 479.65,1186.25 480.3,1196.1 C480.95,1205.95 481.22,1207.08 482.3,1210.3 C483.38,1213.52 485.2,1213.48 486.8,1215.4 C488.4,1217.32 489.7,1220.08 491.9,1221.8 C494.1,1223.52 497.07,1225.1 500,1225.7 C502.93,1226.3 507.1,1224.83 509.5,1225.4 C511.9,1225.97 511.93,1226.83 514.4,1229.1 C516.87,1231.37 521.42,1236.95 524.3,1239 C527.18,1241.05 529.08,1241 531.7,1241.4 C534.32,1241.8 537.52,1241.12 540,1241.4 C542.48,1241.68 544.4,1242.48 546.6,1243.1 C548.8,1243.72 551.57,1245.92 553.2,1245.1 C554.83,1244.28 555.45,1244.57 556.4,1238.2 C557.35,1231.83 558.07,1216.92 558.9,1206.9 C559.73,1196.88 560.65,1184.15 561.4,1178.1 C562.15,1172.05 562.65,1170.6 563.4,1170.6 C564.15,1170.6 565.13,1174.1 565.9,1178.1 C566.67,1182.1 567.38,1191.55 568,1194.6 C568.62,1197.65 568.92,1199.15 569.6,1196.4 C570.28,1193.65 571.28,1185.25 572.1,1178.1 C572.92,1170.95 573.63,1159.13 574.5,1153.5 C575.37,1147.87 576.47,1143.62 577.3,1144.3 C578.13,1144.98 578.8,1149.9 579.5,1157.6 C580.2,1165.3 580.75,1180.62 581.5,1190.5 C582.25,1200.38 583.17,1214.17 584,1216.9 C584.83,1219.63 585.75,1211.3 586.5,1206.9 C587.25,1202.5 587.87,1193.68 588.5,1190.5 C589.13,1187.32 589.62,1187.4 590.3,1187.8 C590.98,1188.2 591.67,1189.72 592.6,1192.9 C593.53,1196.08 594.8,1202.78 595.9,1206.9 C597,1211.02 598.1,1214.72 599.2,1217.6 C600.3,1220.48 601.53,1222.97 602.5,1224.2 C603.47,1225.43 603.77,1225.55 605,1225 C606.23,1224.45 608.27,1221.17 609.9,1220.9 C611.53,1220.63 613.43,1224.08 614.8,1223.4 C616.17,1222.72 616.93,1218.88 618.1,1216.8 C619.27,1214.72 620.57,1210.9 621.8,1210.9 C623.03,1210.9 624.2,1215 625.5,1216.8 C626.8,1218.6 628.22,1222.25 629.6,1221.7 C630.98,1221.15 632.57,1216.92 633.8,1213.5 C635.03,1210.08 636.22,1203.93 637,1201.2 C637.78,1198.47 637.65,1198.62 638.5,1197.1 C639.35,1195.58 640.68,1194.08 642.1,1192.1 C643.52,1190.12 645.6,1184.37 647,1185.2 C648.4,1186.03 649.38,1194.07 650.5,1197.1 C651.62,1200.13 652.75,1203.05 653.7,1203.4 C654.65,1203.75 655.32,1200.47 656.2,1199.2 C657.08,1197.93 658.07,1195.57 659,1195.8 C659.93,1196.03 660.85,1197.45 661.8,1200.6 C662.75,1203.75 663.63,1209.75 664.7,1214.7 C665.77,1219.65 667.03,1226.53 668.2,1230.3 C669.37,1234.07 670.28,1235.77 671.7,1237.3 C673.12,1238.83 674.82,1239.5 676.7,1239.5 C678.58,1239.5 681,1237.55 683,1237.3 C685,1237.05 686.58,1238.47 688.7,1238 C690.82,1237.53 693.35,1236.02 695.7,1234.5 C698.05,1232.98 700.8,1230.07 702.8,1228.9 C704.8,1227.73 706.05,1228.92 707.7,1227.5 C709.35,1226.08 710.7,1223.12 712.7,1220.4 C714.7,1217.68 717.82,1213.78 719.7,1211.2 C721.58,1208.62 722.7,1206.55 724,1204.9 C725.3,1203.25 726.22,1201.78 727.5,1201.3 C728.78,1200.82 730.28,1201.85 731.7,1202 C733.12,1202.15 734.38,1202.2 736,1202.2 C737.62,1202.2 738.85,1201.63 741.4,1202 C743.95,1202.37 748.2,1202.76 751.3,1204.4 C754.4,1206.04 757.73,1208.14 760,1211.84 C762.27,1215.55 762.88,1222.54 764.93,1226.65 C766.99,1230.76 768.64,1234.26 772.34,1236.52 C776.04,1238.78 781.79,1238.98 787.14,1240.22 C792.49,1241.45 799.48,1244.33 804.41,1243.92 C809.35,1243.51 812.64,1240.22 816.75,1237.75 C820.86,1235.28 825.79,1231.38 829.08,1229.12 C832.37,1226.85 832.79,1226.65 836.49,1224.18 C840.19,1221.71 846.77,1215.34 851.29,1214.31 C855.81,1213.28 859.93,1216.37 863.63,1218.01 C867.33,1219.66 869.38,1222.33 873.5,1224.18 C877.61,1226.03 883.37,1229.12 888.3,1229.12 C893.23,1229.12 897.76,1225.62 903.1,1224.18 C908.45,1222.74 915.44,1220.69 920.38,1220.48 C925.31,1220.27 928.19,1221.51 932.71,1222.95 C937.23,1224.39 942.99,1227.47 947.52,1229.12 C952.04,1230.76 954.09,1232.41 959.85,1232.82 C965.61,1233.23 975.07,1232.2 982.06,1231.58 C989.05,1230.97 995.63,1229.94 1001.8,1229.12 C1007.96,1228.29 1013.72,1226.85 1019.07,1226.65 C1024.41,1226.44 1029.35,1226.85 1033.87,1227.88 C1038.39,1228.91 1043.52,1231.46 1046.21,1232.82 C1048.9,1234.17 1045.06,1235.06 1050,1236.02 C1054.94,1236.99 1067.23,1239.04 1075.85,1238.61 C1084.46,1238.17 1093.08,1234.86 1101.69,1233.44 C1110.31,1232.01 1118.92,1230.08 1127.54,1230.08 C1136.15,1230.08 1146.49,1232.88 1153.39,1233.44 C1160.28,1234 1164.16,1234.94 1168.89,1233.44 C1173.63,1231.93 1177.08,1226.33 1181.82,1224.39 C1186.56,1222.45 1192.8,1221.59 1197.32,1221.81 C1201.85,1222.02 1204.86,1226.11 1208.96,1225.68 C1213.05,1225.25 1217.36,1218.79 1221.88,1219.22 C1226.4,1219.65 1231.57,1226.63 1236.09,1228.27 C1240.62,1229.9 1244.71,1229.26 1249.02,1229.04 C1253.33,1228.83 1257.2,1226.46 1261.94,1226.97 C1266.68,1227.49 1271.85,1231.28 1277.45,1232.14 C1283.05,1233.01 1288.22,1231.5 1295.54,1232.14 C1302.86,1232.79 1312.77,1234.94 1321.39,1236.02 C1330,1237.1 1338.62,1238.39 1347.23,1238.61 C1355.85,1238.82 1364.03,1237.74 1373.08,1237.31 C1382.13,1236.88 1396.77,1236.24 1401.51,1236.02 L1402,1253 Z" fill="#e3e3e3"/>
<path d="M189.4,1253 L189.4,1189.2 C189.77,1194.28 190.85,1217.25 191.6,1219.7 C192.35,1222.15 192.95,1208.63 193.9,1203.9 C194.85,1199.17 196.35,1189.42 197.3,1191.3 C198.25,1193.18 198.8,1208.37 199.6,1215.2 C200.4,1222.03 201.27,1231.83 202.1,1232.3 C202.93,1232.77 203.8,1220.47 204.6,1218 C205.4,1215.53 205.95,1220.45 206.9,1217.5 C207.85,1214.55 209.35,1200.4 210.3,1200.3 C211.25,1200.2 211.85,1215.92 212.6,1216.9 C213.35,1217.88 214.15,1205.27 214.8,1206.2 C215.45,1207.13 215.65,1222.5 216.5,1222.5 C217.35,1222.5 218.87,1207.42 219.9,1206.2 C220.93,1204.98 221.77,1218.43 222.7,1215.2 C223.63,1211.97 224.65,1189.63 225.5,1186.8 C226.35,1183.97 227,1192.72 227.8,1198.2 C228.6,1203.68 229.45,1218.93 230.3,1219.7 C231.15,1220.47 232.08,1204.5 232.9,1202.8 C233.72,1201.1 234.55,1208.38 235.2,1209.5 C235.85,1210.62 236.25,1205.73 236.8,1209.5 C237.35,1213.27 237.93,1226.45 238.5,1232.1 C239.07,1237.75 239.53,1240.33 240.2,1243.4 C240.87,1246.47 241.55,1251.85 242.5,1250.5 C243.45,1249.15 244.97,1235.72 245.9,1235.3 C246.83,1234.88 247.35,1245.38 248.1,1248 C248.85,1250.62 249.55,1256 250.4,1251 C251.25,1246 252.35,1220.67 253.2,1218 C254.05,1215.33 254.65,1235.68 255.5,1235 C256.35,1234.32 257.37,1212.3 258.3,1213.9 C259.23,1215.5 260.1,1244.83 261.1,1244.6 C262.1,1244.37 263.35,1214.1 264.3,1212.5 C265.25,1210.9 266.02,1228.9 266.8,1235 C267.58,1241.1 267.97,1248.48 269,1249.1 C270.03,1249.72 271.77,1238.7 273,1238.7 C274.23,1238.7 275.37,1246.97 276.4,1249.1 C277.43,1251.23 277.98,1251.1 279.2,1251.5 C280.42,1251.9 282.38,1252.85 283.7,1251.5 C285.02,1250.15 286.07,1246 287.1,1243.4 C288.13,1240.8 288.95,1235.7 289.9,1235.9 C290.85,1236.1 291.85,1242.4 292.8,1244.6 C293.75,1246.8 294.28,1248.35 295.6,1249.1 C296.92,1249.85 299.2,1250.05 300.7,1249.1 C302.2,1248.15 303.57,1246.7 304.6,1243.4 C305.63,1240.1 306.23,1232.15 306.9,1229.3 C307.57,1226.45 307.95,1225.35 308.6,1226.3 C309.25,1227.25 310.15,1231.2 310.8,1235 C311.45,1238.8 311.93,1246.35 312.5,1249.1 C313.07,1251.85 309.62,1251.1 314.2,1251.5 C318.78,1251.9 334.88,1251.7 340,1251.5 C345.12,1251.3 343.73,1255.45 344.9,1250.3 C346.07,1245.15 346.35,1230.25 347,1220.6 C347.65,1210.95 348.22,1199.22 348.8,1192.4 C349.38,1185.58 349.85,1179.7 350.5,1179.7 C351.15,1179.7 351.98,1185.58 352.7,1192.4 C353.42,1199.22 354.17,1213.43 354.8,1220.6 C355.43,1227.77 355.8,1235.4 356.5,1235.4 C357.2,1235.4 358.35,1223.88 359,1220.6 C359.65,1217.32 359.75,1215.7 360.4,1215.7 C361.05,1215.7 362.13,1222.13 362.9,1220.6 C363.67,1219.07 364.3,1209.67 365,1206.5 C365.7,1203.33 366.38,1201.02 367.1,1201.6 C367.82,1202.18 368.65,1205.65 369.3,1210 C369.95,1214.35 370.37,1221.45 371,1227.7 C371.63,1233.95 372.27,1243.73 373.1,1247.5 C373.93,1251.27 374.23,1249.63 376,1250.3 C377.77,1250.97 381.58,1251.97 383.7,1251.5 C385.82,1251.03 387.17,1248.88 388.7,1247.5 C390.23,1246.12 391.62,1244.48 392.9,1243.2 C394.18,1241.92 395.33,1239.45 396.4,1239.8 C397.47,1240.15 398.35,1243.55 399.3,1245.3 C400.25,1247.05 399.87,1249.27 402.1,1250.3 C404.33,1251.33 408.23,1251.3 412.7,1251.5 C417.17,1251.7 425.87,1251.53 428.9,1251.5 C431.93,1251.47 430.25,1259.45 430.9,1251.3 C431.55,1243.15 432.15,1217.15 432.8,1202.6 C433.45,1188.05 434.15,1175.13 434.8,1164 C435.45,1152.87 436,1141.53 436.7,1135.8 C437.4,1130.07 438.15,1127.9 439,1129.6 C439.85,1131.3 441.02,1139.65 441.8,1146 C442.58,1152.35 442.95,1169.83 443.7,1167.7 C444.45,1165.57 445.43,1140.62 446.3,1133.2 C447.17,1125.78 447.93,1122.33 448.9,1123.2 C449.87,1124.07 451.13,1133.13 452.1,1138.4 C453.07,1143.67 453.73,1156.95 454.7,1154.8 C455.67,1152.65 456.95,1137.65 457.9,1125.5 C458.85,1113.35 459.65,1090.2 460.4,1081.9 C461.15,1073.6 461.75,1074.85 462.4,1075.7 C463.05,1076.55 463.55,1083.43 464.3,1087 C465.05,1090.57 466.05,1098.17 466.9,1097.1 C467.75,1096.03 468.55,1086.57 469.4,1080.6 C470.25,1074.63 471.42,1068.73 472,1061.3 C472.58,1053.87 472.37,1027.43 472.9,1036 C473.43,1044.57 474.5,1089.22 475.2,1112.7 C475.9,1136.18 476.47,1157.65 477.1,1176.9 C477.73,1196.15 478.35,1215.8 479,1228.2 C479.65,1240.6 480.67,1247.45 481,1251.3 L481,1253 Z" fill="#717171"/>
<path d="M553.5,1253 L553.5,1252 C553.85,1251.67 554.7,1256.15 555.6,1250 C556.5,1243.85 557.93,1226.4 558.9,1215.1 C559.87,1203.8 560.65,1189.22 561.4,1182.2 C562.15,1175.18 562.58,1172.32 563.4,1173 C564.22,1173.68 565.27,1180.08 566.3,1186.3 C567.33,1192.52 568.57,1210.98 569.6,1210.3 C570.63,1209.62 571.68,1190.98 572.5,1182.2 C573.32,1173.42 573.7,1163.37 574.5,1157.6 C575.3,1151.83 576.4,1144.87 577.3,1147.6 C578.2,1150.33 579.13,1162.75 579.9,1174 C580.67,1185.25 581.22,1204.52 581.9,1215.1 C582.58,1225.68 583.23,1236.12 584,1237.5 C584.77,1238.88 585.75,1228.5 586.5,1223.4 C587.25,1218.3 587.87,1209.67 588.5,1206.9 C589.13,1204.13 589.47,1205.43 590.3,1206.8 C591.13,1208.17 592.28,1210.97 593.5,1215.1 C594.72,1219.23 596.37,1226.67 597.6,1231.6 C598.83,1236.53 599.82,1242.08 600.9,1244.7 C601.98,1247.32 602.6,1247.15 604.1,1247.3 C605.6,1247.45 608.05,1245.6 609.9,1245.6 C611.75,1245.6 613.68,1248.27 615.2,1247.3 C616.72,1246.33 617.9,1241.62 619,1239.8 C620.1,1237.98 620.72,1235.98 621.8,1236.4 C622.88,1236.82 624.2,1240.62 625.5,1242.3 C626.8,1243.98 628.22,1246.92 629.6,1246.5 C630.98,1246.08 632.42,1243.25 633.8,1239.8 C635.18,1236.35 636.77,1228.68 637.9,1225.8 C639.03,1222.92 639.55,1224.35 640.6,1222.5 C641.65,1220.65 643.13,1216.33 644.2,1214.7 C645.27,1213.07 645.95,1210.93 647,1212.7 C648.05,1214.47 649.38,1222.62 650.5,1225.3 C651.62,1227.98 652.63,1229.38 653.7,1228.8 C654.77,1228.22 655.95,1223.3 656.9,1221.8 C657.85,1220.3 658.47,1218.62 659.4,1219.8 C660.33,1220.98 661.5,1225.03 662.5,1228.9 C663.5,1232.77 664.33,1239.12 665.4,1243 C666.47,1246.88 668.32,1250.67 668.9,1252.2 L668.9,1253 Z" fill="#717171"/>
<path d="M1171.48,1253 L1171.48,1253.34 C1172.77,1252.82 1175.36,1251.27 1179.23,1250.24 C1183.11,1249.2 1190,1246.92 1194.74,1247.13 C1199.48,1247.35 1203.14,1251.96 1207.66,1251.53 C1212.19,1251.1 1218,1244.77 1221.88,1244.55 C1225.76,1244.33 1228.56,1248.77 1230.93,1250.24 C1233.29,1251.7 1232.65,1252.82 1236.09,1253.34 C1239.54,1253.86 1247.29,1253.73 1251.6,1253.34 C1255.91,1252.95 1258.49,1251.01 1261.94,1251.01 C1265.39,1251.01 1270.56,1252.95 1272.28,1253.34 L1272.28,1253 Z" fill="#717171"/>
<path d="M189.4,1189.2 C189.77,1194.28 190.85,1217.25 191.6,1219.7 C192.35,1222.15 192.95,1208.63 193.9,1203.9 C194.85,1199.17 196.35,1189.42 197.3,1191.3 C198.25,1193.18 198.8,1208.37 199.6,1215.2 C200.4,1222.03 201.27,1231.83 202.1,1232.3 C202.93,1232.77 203.8,1220.47 204.6,1218 C205.4,1215.53 205.95,1220.45 206.9,1217.5 C207.85,1214.55 209.35,1200.4 210.3,1200.3 C211.25,1200.2 211.85,1215.92 212.6,1216.9 C213.35,1217.88 214.15,1205.27 214.8,1206.2 C215.45,1207.13 215.65,1222.5 216.5,1222.5 C217.35,1222.5 218.87,1207.42 219.9,1206.2 C220.93,1204.98 221.77,1218.43 222.7,1215.2 C223.63,1211.97 224.65,1189.63 225.5,1186.8 C226.35,1183.97 227,1192.72 227.8,1198.2 C228.6,1203.68 229.45,1218.93 230.3,1219.7 C231.15,1220.47 232.08,1204.5 232.9,1202.8 C233.72,1201.1 234.55,1208.38 235.2,1209.5 C235.85,1210.62 236.25,1205.73 236.8,1209.5 C237.35,1213.27 237.93,1226.45 238.5,1232.1 C239.07,1237.75 239.53,1240.33 240.2,1243.4 C240.87,1246.47 241.55,1251.85 242.5,1250.5 C243.45,1249.15 244.97,1235.72 245.9,1235.3 C246.83,1234.88 247.35,1245.38 248.1,1248 C248.85,1250.62 249.55,1256 250.4,1251 C251.25,1246 252.35,1220.67 253.2,1218 C254.05,1215.33 254.65,1235.68 255.5,1235 C256.35,1234.32 257.37,1212.3 258.3,1213.9 C259.23,1215.5 260.1,1244.83 261.1,1244.6 C262.1,1244.37 263.35,1214.1 264.3,1212.5 C265.25,1210.9 266.02,1228.9 266.8,1235 C267.58,1241.1 267.97,1248.48 269,1249.1 C270.03,1249.72 271.77,1238.7 273,1238.7 C274.23,1238.7 275.37,1246.97 276.4,1249.1 C277.43,1251.23 277.98,1251.1 279.2,1251.5 C280.42,1251.9 282.38,1252.85 283.7,1251.5 C285.02,1250.15 286.07,1246 287.1,1243.4 C288.13,1240.8 288.95,1235.7 289.9,1235.9 C290.85,1236.1 291.85,1242.4 292.8,1244.6 C293.75,1246.8 294.28,1248.35 295.6,1249.1 C296.92,1249.85 299.2,1250.05 300.7,1249.1 C302.2,1248.15 303.57,1246.7 304.6,1243.4 C305.63,1240.1 306.23,1232.15 306.9,1229.3 C307.57,1226.45 307.95,1225.35 308.6,1226.3 C309.25,1227.25 310.15,1231.2 310.8,1235 C311.45,1238.8 311.93,1246.35 312.5,1249.1 C313.07,1251.85 309.62,1251.1 314.2,1251.5 C318.78,1251.9 334.88,1251.7 340,1251.5 C345.12,1251.3 343.73,1255.45 344.9,1250.3 C346.07,1245.15 346.35,1230.25 347,1220.6 C347.65,1210.95 348.22,1199.22 348.8,1192.4 C349.38,1185.58 349.85,1179.7 350.5,1179.7 C351.15,1179.7 351.98,1185.58 352.7,1192.4 C353.42,1199.22 354.17,1213.43 354.8,1220.6 C355.43,1227.77 355.8,1235.4 356.5,1235.4 C357.2,1235.4 358.35,1223.88 359,1220.6 C359.65,1217.32 359.75,1215.7 360.4,1215.7 C361.05,1215.7 362.13,1222.13 362.9,1220.6 C363.67,1219.07 364.3,1209.67 365,1206.5 C365.7,1203.33 366.38,1201.02 367.1,1201.6 C367.82,1202.18 368.65,1205.65 369.3,1210 C369.95,1214.35 370.37,1221.45 371,1227.7 C371.63,1233.95 372.27,1243.73 373.1,1247.5 C373.93,1251.27 374.23,1249.63 376,1250.3 C377.77,1250.97 381.58,1251.97 383.7,1251.5 C385.82,1251.03 387.17,1248.88 388.7,1247.5 C390.23,1246.12 391.62,1244.48 392.9,1243.2 C394.18,1241.92 395.33,1239.45 396.4,1239.8 C397.47,1240.15 398.35,1243.55 399.3,1245.3 C400.25,1247.05 399.87,1249.27 402.1,1250.3 C404.33,1251.33 408.23,1251.3 412.7,1251.5 C417.17,1251.7 425.87,1251.53 428.9,1251.5 C431.93,1251.47 430.25,1259.45 430.9,1251.3 C431.55,1243.15 432.15,1217.15 432.8,1202.6 C433.45,1188.05 434.15,1175.13 434.8,1164 C435.45,1152.87 436,1141.53 436.7,1135.8 C437.4,1130.07 438.15,1127.9 439,1129.6 C439.85,1131.3 441.02,1139.65 441.8,1146 C442.58,1152.35 442.95,1169.83 443.7,1167.7 C444.45,1165.57 445.43,1140.62 446.3,1133.2 C447.17,1125.78 447.93,1122.33 448.9,1123.2 C449.87,1124.07 451.13,1133.13 452.1,1138.4 C453.07,1143.67 453.73,1156.95 454.7,1154.8 C455.67,1152.65 456.95,1137.65 457.9,1125.5 C458.85,1113.35 459.65,1090.2 460.4,1081.9 C461.15,1073.6 461.75,1074.85 462.4,1075.7 C463.05,1076.55 463.55,1083.43 464.3,1087 C465.05,1090.57 466.05,1098.17 466.9,1097.1 C467.75,1096.03 468.55,1086.57 469.4,1080.6 C470.25,1074.63 471.42,1068.73 472,1061.3 C472.58,1053.87 472.37,1027.43 472.9,1036 C473.43,1044.57 474.5,1089.22 475.2,1112.7 C475.9,1136.18 476.47,1157.65 477.1,1176.9 C477.73,1196.15 478.35,1215.8 479,1228.2 C479.65,1240.6 480.67,1247.45 481,1251.3" fill="none" stroke="#999" stroke-opacity="0.5" stroke-width="4.6" stroke-linejoin="round"/>
<path d="M189.4,1189.2 C189.77,1194.28 190.85,1217.25 191.6,1219.7 C192.35,1222.15 192.95,1208.63 193.9,1203.9 C194.85,1199.17 196.35,1189.42 197.3,1191.3 C198.25,1193.18 198.8,1208.37 199.6,1215.2 C200.4,1222.03 201.27,1231.83 202.1,1232.3 C202.93,1232.77 203.8,1220.47 204.6,1218 C205.4,1215.53 205.95,1220.45 206.9,1217.5 C207.85,1214.55 209.35,1200.4 210.3,1200.3 C211.25,1200.2 211.85,1215.92 212.6,1216.9 C213.35,1217.88 214.15,1205.27 214.8,1206.2 C215.45,1207.13 215.65,1222.5 216.5,1222.5 C217.35,1222.5 218.87,1207.42 219.9,1206.2 C220.93,1204.98 221.77,1218.43 222.7,1215.2 C223.63,1211.97 224.65,1189.63 225.5,1186.8 C226.35,1183.97 227,1192.72 227.8,1198.2 C228.6,1203.68 229.45,1218.93 230.3,1219.7 C231.15,1220.47 232.08,1204.5 232.9,1202.8 C233.72,1201.1 234.55,1208.38 235.2,1209.5 C235.85,1210.62 236.25,1205.73 236.8,1209.5 C237.35,1213.27 237.93,1226.45 238.5,1232.1 C239.07,1237.75 239.53,1240.33 240.2,1243.4 C240.87,1246.47 241.55,1251.85 242.5,1250.5 C243.45,1249.15 244.97,1235.72 245.9,1235.3 C246.83,1234.88 247.35,1245.38 248.1,1248 C248.85,1250.62 249.55,1256 250.4,1251 C251.25,1246 252.35,1220.67 253.2,1218 C254.05,1215.33 254.65,1235.68 255.5,1235 C256.35,1234.32 257.37,1212.3 258.3,1213.9 C259.23,1215.5 260.1,1244.83 261.1,1244.6 C262.1,1244.37 263.35,1214.1 264.3,1212.5 C265.25,1210.9 266.02,1228.9 266.8,1235 C267.58,1241.1 267.97,1248.48 269,1249.1 C270.03,1249.72 271.77,1238.7 273,1238.7 C274.23,1238.7 275.37,1246.97 276.4,1249.1 C277.43,1251.23 277.98,1251.1 279.2,1251.5 C280.42,1251.9 282.38,1252.85 283.7,1251.5 C285.02,1250.15 286.07,1246 287.1,1243.4 C288.13,1240.8 288.95,1235.7 289.9,1235.9 C290.85,1236.1 291.85,1242.4 292.8,1244.6 C293.75,1246.8 294.28,1248.35 295.6,1249.1 C296.92,1249.85 299.2,1250.05 300.7,1249.1 C302.2,1248.15 303.57,1246.7 304.6,1243.4 C305.63,1240.1 306.23,1232.15 306.9,1229.3 C307.57,1226.45 307.95,1225.35 308.6,1226.3 C309.25,1227.25 310.15,1231.2 310.8,1235 C311.45,1238.8 311.93,1246.35 312.5,1249.1 C313.07,1251.85 309.62,1251.1 314.2,1251.5 C318.78,1251.9 334.88,1251.7 340,1251.5 C345.12,1251.3 343.73,1255.45 344.9,1250.3 C346.07,1245.15 346.35,1230.25 347,1220.6 C347.65,1210.95 348.22,1199.22 348.8,1192.4 C349.38,1185.58 349.85,1179.7 350.5,1179.7 C351.15,1179.7 351.98,1185.58 352.7,1192.4 C353.42,1199.22 354.17,1213.43 354.8,1220.6 C355.43,1227.77 355.8,1235.4 356.5,1235.4 C357.2,1235.4 358.35,1223.88 359,1220.6 C359.65,1217.32 359.75,1215.7 360.4,1215.7 C361.05,1215.7 362.13,1222.13 362.9,1220.6 C363.67,1219.07 364.3,1209.67 365,1206.5 C365.7,1203.33 366.38,1201.02 367.1,1201.6 C367.82,1202.18 368.65,1205.65 369.3,1210 C369.95,1214.35 370.37,1221.45 371,1227.7 C371.63,1233.95 372.27,1243.73 373.1,1247.5 C373.93,1251.27 374.23,1249.63 376,1250.3 C377.77,1250.97 381.58,1251.97 383.7,1251.5 C385.82,1251.03 387.17,1248.88 388.7,1247.5 C390.23,1246.12 391.62,1244.48 392.9,1243.2 C394.18,1241.92 395.33,1239.45 396.4,1239.8 C397.47,1240.15 398.35,1243.55 399.3,1245.3 C400.25,1247.05 399.87,1249.27 402.1,1250.3 C404.33,1251.33 408.23,1251.3 412.7,1251.5 C417.17,1251.7 425.87,1251.53 428.9,1251.5 C431.93,1251.47 430.25,1259.45 430.9,1251.3 C431.55,1243.15 432.15,1217.15 432.8,1202.6 C433.45,1188.05 434.15,1175.13 434.8,1164 C435.45,1152.87 436,1141.53 436.7,1135.8 C437.4,1130.07 438.15,1127.9 439,1129.6 C439.85,1131.3 441.02,1139.65 441.8,1146 C442.58,1152.35 442.95,1169.83 443.7,1167.7 C444.45,1165.57 445.43,1140.62 446.3,1133.2 C447.17,1125.78 447.93,1122.33 448.9,1123.2 C449.87,1124.07 451.13,1133.13 452.1,1138.4 C453.07,1143.67 453.73,1156.95 454.7,1154.8 C455.67,1152.65 456.95,1137.65 457.9,1125.5 C458.85,1113.35 459.65,1090.2 460.4,1081.9 C461.15,1073.6 461.75,1074.85 462.4,1075.7 C463.05,1076.55 463.55,1083.43 464.3,1087 C465.05,1090.57 466.05,1098.17 466.9,1097.1 C467.75,1096.03 468.55,1086.57 469.4,1080.6 C470.25,1074.63 471.42,1068.73 472,1061.3 C472.58,1053.87 472.37,1027.43 472.9,1036 C473.43,1044.57 474.5,1089.22 475.2,1112.7 C475.9,1136.18 476.47,1157.65 477.1,1176.9 C477.73,1196.15 478.35,1215.8 479,1228.2 C479.65,1240.6 480.67,1247.45 481,1251.3" fill="none" stroke="#4d4d4d" stroke-width="2.0" stroke-linejoin="round"/>
<path d="M553.5,1252 C553.85,1251.67 554.7,1256.15 555.6,1250 C556.5,1243.85 557.93,1226.4 558.9,1215.1 C559.87,1203.8 560.65,1189.22 561.4,1182.2 C562.15,1175.18 562.58,1172.32 563.4,1173 C564.22,1173.68 565.27,1180.08 566.3,1186.3 C567.33,1192.52 568.57,1210.98 569.6,1210.3 C570.63,1209.62 571.68,1190.98 572.5,1182.2 C573.32,1173.42 573.7,1163.37 574.5,1157.6 C575.3,1151.83 576.4,1144.87 577.3,1147.6 C578.2,1150.33 579.13,1162.75 579.9,1174 C580.67,1185.25 581.22,1204.52 581.9,1215.1 C582.58,1225.68 583.23,1236.12 584,1237.5 C584.77,1238.88 585.75,1228.5 586.5,1223.4 C587.25,1218.3 587.87,1209.67 588.5,1206.9 C589.13,1204.13 589.47,1205.43 590.3,1206.8 C591.13,1208.17 592.28,1210.97 593.5,1215.1 C594.72,1219.23 596.37,1226.67 597.6,1231.6 C598.83,1236.53 599.82,1242.08 600.9,1244.7 C601.98,1247.32 602.6,1247.15 604.1,1247.3 C605.6,1247.45 608.05,1245.6 609.9,1245.6 C611.75,1245.6 613.68,1248.27 615.2,1247.3 C616.72,1246.33 617.9,1241.62 619,1239.8 C620.1,1237.98 620.72,1235.98 621.8,1236.4 C622.88,1236.82 624.2,1240.62 625.5,1242.3 C626.8,1243.98 628.22,1246.92 629.6,1246.5 C630.98,1246.08 632.42,1243.25 633.8,1239.8 C635.18,1236.35 636.77,1228.68 637.9,1225.8 C639.03,1222.92 639.55,1224.35 640.6,1222.5 C641.65,1220.65 643.13,1216.33 644.2,1214.7 C645.27,1213.07 645.95,1210.93 647,1212.7 C648.05,1214.47 649.38,1222.62 650.5,1225.3 C651.62,1227.98 652.63,1229.38 653.7,1228.8 C654.77,1228.22 655.95,1223.3 656.9,1221.8 C657.85,1220.3 658.47,1218.62 659.4,1219.8 C660.33,1220.98 661.5,1225.03 662.5,1228.9 C663.5,1232.77 664.33,1239.12 665.4,1243 C666.47,1246.88 668.32,1250.67 668.9,1252.2" fill="none" stroke="#999" stroke-opacity="0.5" stroke-width="4.6" stroke-linejoin="round"/>
<path d="M553.5,1252 C553.85,1251.67 554.7,1256.15 555.6,1250 C556.5,1243.85 557.93,1226.4 558.9,1215.1 C559.87,1203.8 560.65,1189.22 561.4,1182.2 C562.15,1175.18 562.58,1172.32 563.4,1173 C564.22,1173.68 565.27,1180.08 566.3,1186.3 C567.33,1192.52 568.57,1210.98 569.6,1210.3 C570.63,1209.62 571.68,1190.98 572.5,1182.2 C573.32,1173.42 573.7,1163.37 574.5,1157.6 C575.3,1151.83 576.4,1144.87 577.3,1147.6 C578.2,1150.33 579.13,1162.75 579.9,1174 C580.67,1185.25 581.22,1204.52 581.9,1215.1 C582.58,1225.68 583.23,1236.12 584,1237.5 C584.77,1238.88 585.75,1228.5 586.5,1223.4 C587.25,1218.3 587.87,1209.67 588.5,1206.9 C589.13,1204.13 589.47,1205.43 590.3,1206.8 C591.13,1208.17 592.28,1210.97 593.5,1215.1 C594.72,1219.23 596.37,1226.67 597.6,1231.6 C598.83,1236.53 599.82,1242.08 600.9,1244.7 C601.98,1247.32 602.6,1247.15 604.1,1247.3 C605.6,1247.45 608.05,1245.6 609.9,1245.6 C611.75,1245.6 613.68,1248.27 615.2,1247.3 C616.72,1246.33 617.9,1241.62 619,1239.8 C620.1,1237.98 620.72,1235.98 621.8,1236.4 C622.88,1236.82 624.2,1240.62 625.5,1242.3 C626.8,1243.98 628.22,1246.92 629.6,1246.5 C630.98,1246.08 632.42,1243.25 633.8,1239.8 C635.18,1236.35 636.77,1228.68 637.9,1225.8 C639.03,1222.92 639.55,1224.35 640.6,1222.5 C641.65,1220.65 643.13,1216.33 644.2,1214.7 C645.27,1213.07 645.95,1210.93 647,1212.7 C648.05,1214.47 649.38,1222.62 650.5,1225.3 C651.62,1227.98 652.63,1229.38 653.7,1228.8 C654.77,1228.22 655.95,1223.3 656.9,1221.8 C657.85,1220.3 658.47,1218.62 659.4,1219.8 C660.33,1220.98 661.5,1225.03 662.5,1228.9 C663.5,1232.77 664.33,1239.12 665.4,1243 C666.47,1246.88 668.32,1250.67 668.9,1252.2" fill="none" stroke="#4d4d4d" stroke-width="2.0" stroke-linejoin="round"/>
<path d="M1171.48,1253.34 C1172.77,1252.82 1175.36,1251.27 1179.23,1250.24 C1183.11,1249.2 1190,1246.92 1194.74,1247.13 C1199.48,1247.35 1203.14,1251.96 1207.66,1251.53 C1212.19,1251.1 1218,1244.77 1221.88,1244.55 C1225.76,1244.33 1228.56,1248.77 1230.93,1250.24 C1233.29,1251.7 1232.65,1252.82 1236.09,1253.34 C1239.54,1253.86 1247.29,1253.73 1251.6,1253.34 C1255.91,1252.95 1258.49,1251.01 1261.94,1251.01 C1265.39,1251.01 1270.56,1252.95 1272.28,1253.34" fill="none" stroke="#999" stroke-opacity="0.5" stroke-width="4.6" stroke-linejoin="round"/>
<path d="M1171.48,1253.34 C1172.77,1252.82 1175.36,1251.27 1179.23,1250.24 C1183.11,1249.2 1190,1246.92 1194.74,1247.13 C1199.48,1247.35 1203.14,1251.96 1207.66,1251.53 C1212.19,1251.1 1218,1244.77 1221.88,1244.55 C1225.76,1244.33 1228.56,1248.77 1230.93,1250.24 C1233.29,1251.7 1232.65,1252.82 1236.09,1253.34 C1239.54,1253.86 1247.29,1253.73 1251.6,1253.34 C1255.91,1252.95 1258.49,1251.01 1261.94,1251.01 C1265.39,1251.01 1270.56,1252.95 1272.28,1253.34" fill="none" stroke="#4d4d4d" stroke-width="2.0" stroke-linejoin="round"/>
<path d="M189.5,1041.3 C189.82,1040.27 190.88,1038.87 191.4,1035.1 C191.92,1031.33 192.08,1019.75 192.6,1018.7 C193.12,1017.65 193.98,1026.07 194.5,1028.8 C195.02,1031.53 195.12,1034.45 195.7,1035.1 C196.28,1035.75 196.9,1032.22 198,1032.7 C199.1,1033.18 201.07,1038.65 202.3,1038 C203.53,1037.35 204.48,1033.77 205.4,1028.8 C206.32,1023.83 206.88,1008.75 207.8,1008.2 C208.72,1007.65 209.55,1024.92 210.9,1025.5 C212.25,1026.08 214.42,1011.7 215.9,1011.7 C217.38,1011.7 218.57,1024.85 219.8,1025.5 C221.03,1026.15 222.4,1018.55 223.3,1015.6 C224.2,1012.65 224.3,1007.92 225.2,1007.8 C226.1,1007.68 227.65,1014.5 228.7,1014.9 C229.75,1015.3 230.72,1010.47 231.5,1010.2 C232.28,1009.93 232.57,1012.52 233.4,1013.3 C234.23,1014.08 235.47,1012.95 236.5,1014.9 C237.53,1016.85 238.57,1021.42 239.6,1025 C240.63,1028.58 241.4,1037.05 242.7,1036.4 C244,1035.75 246.3,1024.43 247.4,1021.1 C248.5,1017.77 248.53,1015.12 249.3,1016.4 C250.07,1017.68 251.15,1025.68 252,1028.8 C252.85,1031.92 253.35,1033.83 254.4,1035.1 C255.45,1036.37 257.13,1038.48 258.3,1036.4 C259.47,1034.32 260.5,1025.17 261.4,1022.6 C262.3,1020.03 262.8,1019.57 263.7,1021 C264.6,1022.43 265.83,1028.77 266.8,1031.2 C267.77,1033.63 268.47,1036 269.5,1035.6 C270.53,1035.2 271.9,1030.32 273,1028.8 C274.1,1027.28 274.93,1026.1 276.1,1026.5 C277.27,1026.9 278.7,1029.68 280,1031.2 C281.3,1032.72 282.47,1035.35 283.9,1035.6 C285.33,1035.85 287.3,1032.7 288.6,1032.7 C289.9,1032.7 290.47,1034.47 291.7,1035.6 C292.93,1036.73 293.78,1038.83 296,1039.5 C298.22,1040.17 301,1039.67 305,1039.6 C309,1039.53 315.73,1039.37 320,1039.1 C324.27,1038.83 327.53,1038.7 330.6,1038 C333.67,1037.3 336.63,1036.72 338.4,1034.9 C340.17,1033.08 340.43,1031.35 341.2,1027.1 C341.97,1022.85 342.47,1013.83 343,1009.4 C343.53,1004.97 344,1002.07 344.4,1000.5 C344.8,998.93 344.82,999.87 345.4,1000 C345.98,1000.13 347.07,1002.08 347.9,1001.3 C348.73,1000.52 349.7,998.07 350.4,995.3 C351.1,992.53 351.42,988.03 352.1,984.7 C352.78,981.37 353.73,975.88 354.5,975.3 C355.27,974.72 355.87,976.68 356.7,981.2 C357.53,985.72 358.43,995.33 359.5,1002.4 C360.57,1009.47 362.03,1018.6 363.1,1023.6 C364.17,1028.6 364.85,1030.57 365.9,1032.4 C366.95,1034.23 367.87,1034.67 369.4,1034.6 C370.93,1034.53 373.22,1032.9 375.1,1032 C376.98,1031.1 378.7,1031.08 380.7,1029.2 C382.7,1027.32 385.45,1023.28 387.1,1020.7 C388.75,1018.12 389.37,1015.73 390.6,1013.7 C391.83,1011.67 393.32,1008.85 394.5,1008.5 C395.68,1008.15 396.58,1010.55 397.7,1011.6 C398.82,1012.65 399.78,1014.73 401.2,1014.8 C402.62,1014.87 404.78,1014.07 406.2,1012 C407.62,1009.93 408.77,1006.37 409.7,1002.4 C410.63,998.43 411.15,994 411.8,988.2 C412.45,982.4 412.8,977.2 413.6,967.6 C414.4,958 415.58,940.87 416.6,930.6 C417.62,920.33 418.77,911.03 419.7,906 C420.63,900.97 421.27,901.63 422.2,900.4 C423.13,899.17 424.58,901.78 425.3,898.6 C426.02,895.42 426.1,889.32 426.5,881.3 C426.9,873.28 427.18,856.42 427.7,850.5 C428.22,844.58 428.98,846 429.6,845.8 C430.22,845.6 430.68,847.73 431.4,849.3 C432.12,850.87 433.07,856.03 433.9,855.2 C434.73,854.37 435.58,847.2 436.4,844.3 C437.22,841.4 437.78,838.82 438.8,837.8 C439.82,836.78 441.37,839.17 442.5,838.2 C443.63,837.23 444.77,836.12 445.6,832 C446.43,827.88 446.92,817.47 447.5,813.5 C448.08,809.53 448.38,808.4 449.1,808.2 C449.82,808 450.73,809.15 451.8,812.3 C452.87,815.45 454.58,819.7 455.5,827.1 C456.42,834.5 456.78,845.62 457.3,856.7 C457.82,867.78 458.08,879.22 458.6,893.6 C459.12,907.98 459.68,932.3 460.4,943 C461.12,953.7 462.07,953.7 462.9,957.8 C463.73,961.9 464.38,961.85 465.4,967.6 C466.42,973.35 467.78,986.95 469,992.3 C470.22,997.65 471.05,997.23 472.7,999.7 C474.35,1002.17 476.63,1005.25 478.9,1007.1 C481.17,1008.95 483.63,1009.57 486.3,1010.8 C488.97,1012.03 492.62,1013.47 494.9,1014.5 C497.18,1015.53 497.57,1015.32 500,1017 C502.43,1018.68 505.45,1022.72 509.5,1024.6 C513.55,1026.48 519.78,1027.68 524.3,1028.3 C528.82,1028.92 533.72,1029.78 536.6,1028.3 C539.48,1026.82 540.08,1029.05 541.6,1019.4 C543.12,1009.75 544.63,984.6 545.7,970.4 C546.77,956.2 547.25,940.73 548,934.2 C548.75,927.67 549.37,931.28 550.2,931.2 C551.03,931.12 552.05,935.65 553,933.7 C553.95,931.75 555.05,925.07 555.9,919.5 C556.75,913.93 557.35,904.85 558.1,900.3 C558.85,895.75 559.63,893.13 560.4,892.2 C561.17,891.27 561.95,890.15 562.7,894.7 C563.45,899.25 564.15,908.77 564.9,919.5 C565.65,930.23 566.45,949.73 567.2,959.1 C567.95,968.47 568.47,973.03 569.4,975.7 C570.33,978.37 571.67,975.98 572.8,975.1 C573.93,974.22 575.17,971.68 576.2,970.4 C577.23,969.12 578.05,966.47 579,967.4 C579.95,968.33 580.95,971.92 581.9,976 C582.85,980.08 583.87,988.75 584.7,991.9 C585.53,995.05 585.97,996.6 586.9,994.9 C587.83,993.2 589.07,988.62 590.3,981.7 C591.53,974.78 592.98,960.4 594.3,953.4 C595.62,946.4 596.98,941.2 598.2,939.7 C599.42,938.2 600.37,938.35 601.6,944.4 C602.83,950.45 604.28,967.15 605.6,976 C606.92,984.85 608.18,993.32 609.5,997.5 C610.82,1001.68 612.08,1001.1 613.5,1001.1 C614.92,1001.1 616.5,999.32 618,997.5 C619.5,995.68 621.25,991.78 622.5,990.2 C623.75,988.62 624.2,989.8 625.5,988 C626.8,986.2 628.08,982.53 630.3,979.4 C632.52,976.27 636.15,969.92 638.8,969.2 C641.45,968.48 643.73,971.82 646.2,975.1 C648.67,978.38 650.52,985.18 653.6,988.9 C656.68,992.62 660.63,996.6 664.7,997.4 C668.77,998.2 673.5,995.12 678,993.7 C682.5,992.28 686.77,989.08 691.7,988.9 C696.63,988.72 703.18,991.02 707.6,992.6 C712.02,994.18 714.32,995.48 718.2,998.4 C722.08,1001.32 727.02,1006.73 730.9,1010.1 C734.78,1013.47 737.08,1016.67 741.5,1018.6 C745.92,1020.53 753.32,1021.13 757.4,1021.7 C761.48,1022.27 763.02,1021.88 766,1022 C768.98,1022.12 772.43,1022.93 775.3,1022.4 C778.17,1021.87 780.12,1021.17 783.2,1018.8 C786.28,1016.43 789.97,1011.72 793.8,1008.2 C797.63,1004.68 801.78,1000.03 806.2,997.7 C810.62,995.37 816.47,994.65 820.3,994.2 C824.13,993.75 826.25,994.18 829.2,995 C832.15,995.82 834.18,997.77 838,999.1 C841.82,1000.43 847.98,1002.35 852.1,1003 C856.22,1003.65 858.28,1002.42 862.7,1003 C867.12,1003.58 873.3,1005.77 878.6,1006.5 C883.9,1007.23 888.62,1006.97 894.5,1007.4 C900.38,1007.83 908.6,1008.9 913.9,1009.1 C919.2,1009.3 920.42,1008.15 926.3,1008.6 C932.18,1009.05 942.43,1011.42 949.2,1011.8 C955.97,1012.18 962.18,1010.62 966.9,1010.9 C971.62,1011.18 974.57,1012.62 977.5,1013.5 C980.43,1014.38 980.75,1015.7 984.5,1016.2 C988.25,1016.7 995.65,1016.67 1000,1016.5 C1004.35,1016.33 1005.6,1015 1010.6,1015.2 C1015.6,1015.4 1022.93,1017.93 1030,1017.7 C1037.07,1017.47 1044.77,1014.65 1053,1013.8 C1061.23,1012.95 1072.63,1012.6 1079.4,1012.6 C1086.17,1012.6 1086.23,1012.87 1093.6,1013.8 C1100.97,1014.73 1113.6,1017.22 1123.6,1018.2 C1133.6,1019.18 1143.3,1019.78 1153.6,1019.7 C1163.9,1019.62 1175.57,1018.52 1185.4,1017.7 C1195.23,1016.88 1205.23,1016.22 1212.6,1014.8 C1219.97,1013.38 1224.43,1010.78 1229.6,1009.2 C1234.77,1007.62 1240.13,1005.97 1243.6,1005.3 C1247.07,1004.63 1246.55,1004.78 1250.4,1005.2 C1254.25,1005.62 1261.27,1007.25 1266.7,1007.8 C1272.13,1008.35 1276.82,1007.63 1283,1008.5 C1289.18,1009.37 1296.62,1011.63 1303.8,1013 C1310.98,1014.37 1318.68,1015.72 1326.1,1016.7 C1333.52,1017.68 1340.9,1018.17 1348.3,1018.9 C1355.7,1019.63 1361.72,1020.68 1370.5,1021.1 C1379.28,1021.52 1395.92,1021.35 1401,1021.4" fill="none" stroke="#000" stroke-opacity="0.6" stroke-width="5.2" stroke-linejoin="round" stroke-linecap="round" filter="url(#bl1)"/>
<path d="M189.5,1041.3 C189.82,1040.27 190.88,1038.87 191.4,1035.1 C191.92,1031.33 192.08,1019.75 192.6,1018.7 C193.12,1017.65 193.98,1026.07 194.5,1028.8 C195.02,1031.53 195.12,1034.45 195.7,1035.1 C196.28,1035.75 196.9,1032.22 198,1032.7 C199.1,1033.18 201.07,1038.65 202.3,1038 C203.53,1037.35 204.48,1033.77 205.4,1028.8 C206.32,1023.83 206.88,1008.75 207.8,1008.2 C208.72,1007.65 209.55,1024.92 210.9,1025.5 C212.25,1026.08 214.42,1011.7 215.9,1011.7 C217.38,1011.7 218.57,1024.85 219.8,1025.5 C221.03,1026.15 222.4,1018.55 223.3,1015.6 C224.2,1012.65 224.3,1007.92 225.2,1007.8 C226.1,1007.68 227.65,1014.5 228.7,1014.9 C229.75,1015.3 230.72,1010.47 231.5,1010.2 C232.28,1009.93 232.57,1012.52 233.4,1013.3 C234.23,1014.08 235.47,1012.95 236.5,1014.9 C237.53,1016.85 238.57,1021.42 239.6,1025 C240.63,1028.58 241.4,1037.05 242.7,1036.4 C244,1035.75 246.3,1024.43 247.4,1021.1 C248.5,1017.77 248.53,1015.12 249.3,1016.4 C250.07,1017.68 251.15,1025.68 252,1028.8 C252.85,1031.92 253.35,1033.83 254.4,1035.1 C255.45,1036.37 257.13,1038.48 258.3,1036.4 C259.47,1034.32 260.5,1025.17 261.4,1022.6 C262.3,1020.03 262.8,1019.57 263.7,1021 C264.6,1022.43 265.83,1028.77 266.8,1031.2 C267.77,1033.63 268.47,1036 269.5,1035.6 C270.53,1035.2 271.9,1030.32 273,1028.8 C274.1,1027.28 274.93,1026.1 276.1,1026.5 C277.27,1026.9 278.7,1029.68 280,1031.2 C281.3,1032.72 282.47,1035.35 283.9,1035.6 C285.33,1035.85 287.3,1032.7 288.6,1032.7 C289.9,1032.7 290.47,1034.47 291.7,1035.6 C292.93,1036.73 293.78,1038.83 296,1039.5 C298.22,1040.17 301,1039.67 305,1039.6 C309,1039.53 315.73,1039.37 320,1039.1 C324.27,1038.83 327.53,1038.7 330.6,1038 C333.67,1037.3 336.63,1036.72 338.4,1034.9 C340.17,1033.08 340.43,1031.35 341.2,1027.1 C341.97,1022.85 342.47,1013.83 343,1009.4 C343.53,1004.97 344,1002.07 344.4,1000.5 C344.8,998.93 344.82,999.87 345.4,1000 C345.98,1000.13 347.07,1002.08 347.9,1001.3 C348.73,1000.52 349.7,998.07 350.4,995.3 C351.1,992.53 351.42,988.03 352.1,984.7 C352.78,981.37 353.73,975.88 354.5,975.3 C355.27,974.72 355.87,976.68 356.7,981.2 C357.53,985.72 358.43,995.33 359.5,1002.4 C360.57,1009.47 362.03,1018.6 363.1,1023.6 C364.17,1028.6 364.85,1030.57 365.9,1032.4 C366.95,1034.23 367.87,1034.67 369.4,1034.6 C370.93,1034.53 373.22,1032.9 375.1,1032 C376.98,1031.1 378.7,1031.08 380.7,1029.2 C382.7,1027.32 385.45,1023.28 387.1,1020.7 C388.75,1018.12 389.37,1015.73 390.6,1013.7 C391.83,1011.67 393.32,1008.85 394.5,1008.5 C395.68,1008.15 396.58,1010.55 397.7,1011.6 C398.82,1012.65 399.78,1014.73 401.2,1014.8 C402.62,1014.87 404.78,1014.07 406.2,1012 C407.62,1009.93 408.77,1006.37 409.7,1002.4 C410.63,998.43 411.15,994 411.8,988.2 C412.45,982.4 412.8,977.2 413.6,967.6 C414.4,958 415.58,940.87 416.6,930.6 C417.62,920.33 418.77,911.03 419.7,906 C420.63,900.97 421.27,901.63 422.2,900.4 C423.13,899.17 424.58,901.78 425.3,898.6 C426.02,895.42 426.1,889.32 426.5,881.3 C426.9,873.28 427.18,856.42 427.7,850.5 C428.22,844.58 428.98,846 429.6,845.8 C430.22,845.6 430.68,847.73 431.4,849.3 C432.12,850.87 433.07,856.03 433.9,855.2 C434.73,854.37 435.58,847.2 436.4,844.3 C437.22,841.4 437.78,838.82 438.8,837.8 C439.82,836.78 441.37,839.17 442.5,838.2 C443.63,837.23 444.77,836.12 445.6,832 C446.43,827.88 446.92,817.47 447.5,813.5 C448.08,809.53 448.38,808.4 449.1,808.2 C449.82,808 450.73,809.15 451.8,812.3 C452.87,815.45 454.58,819.7 455.5,827.1 C456.42,834.5 456.78,845.62 457.3,856.7 C457.82,867.78 458.08,879.22 458.6,893.6 C459.12,907.98 459.68,932.3 460.4,943 C461.12,953.7 462.07,953.7 462.9,957.8 C463.73,961.9 464.38,961.85 465.4,967.6 C466.42,973.35 467.78,986.95 469,992.3 C470.22,997.65 471.05,997.23 472.7,999.7 C474.35,1002.17 476.63,1005.25 478.9,1007.1 C481.17,1008.95 483.63,1009.57 486.3,1010.8 C488.97,1012.03 492.62,1013.47 494.9,1014.5 C497.18,1015.53 497.57,1015.32 500,1017 C502.43,1018.68 505.45,1022.72 509.5,1024.6 C513.55,1026.48 519.78,1027.68 524.3,1028.3 C528.82,1028.92 533.72,1029.78 536.6,1028.3 C539.48,1026.82 540.08,1029.05 541.6,1019.4 C543.12,1009.75 544.63,984.6 545.7,970.4 C546.77,956.2 547.25,940.73 548,934.2 C548.75,927.67 549.37,931.28 550.2,931.2 C551.03,931.12 552.05,935.65 553,933.7 C553.95,931.75 555.05,925.07 555.9,919.5 C556.75,913.93 557.35,904.85 558.1,900.3 C558.85,895.75 559.63,893.13 560.4,892.2 C561.17,891.27 561.95,890.15 562.7,894.7 C563.45,899.25 564.15,908.77 564.9,919.5 C565.65,930.23 566.45,949.73 567.2,959.1 C567.95,968.47 568.47,973.03 569.4,975.7 C570.33,978.37 571.67,975.98 572.8,975.1 C573.93,974.22 575.17,971.68 576.2,970.4 C577.23,969.12 578.05,966.47 579,967.4 C579.95,968.33 580.95,971.92 581.9,976 C582.85,980.08 583.87,988.75 584.7,991.9 C585.53,995.05 585.97,996.6 586.9,994.9 C587.83,993.2 589.07,988.62 590.3,981.7 C591.53,974.78 592.98,960.4 594.3,953.4 C595.62,946.4 596.98,941.2 598.2,939.7 C599.42,938.2 600.37,938.35 601.6,944.4 C602.83,950.45 604.28,967.15 605.6,976 C606.92,984.85 608.18,993.32 609.5,997.5 C610.82,1001.68 612.08,1001.1 613.5,1001.1 C614.92,1001.1 616.5,999.32 618,997.5 C619.5,995.68 621.25,991.78 622.5,990.2 C623.75,988.62 624.2,989.8 625.5,988 C626.8,986.2 628.08,982.53 630.3,979.4 C632.52,976.27 636.15,969.92 638.8,969.2 C641.45,968.48 643.73,971.82 646.2,975.1 C648.67,978.38 650.52,985.18 653.6,988.9 C656.68,992.62 660.63,996.6 664.7,997.4 C668.77,998.2 673.5,995.12 678,993.7 C682.5,992.28 686.77,989.08 691.7,988.9 C696.63,988.72 703.18,991.02 707.6,992.6 C712.02,994.18 714.32,995.48 718.2,998.4 C722.08,1001.32 727.02,1006.73 730.9,1010.1 C734.78,1013.47 737.08,1016.67 741.5,1018.6 C745.92,1020.53 753.32,1021.13 757.4,1021.7 C761.48,1022.27 763.02,1021.88 766,1022 C768.98,1022.12 772.43,1022.93 775.3,1022.4 C778.17,1021.87 780.12,1021.17 783.2,1018.8 C786.28,1016.43 789.97,1011.72 793.8,1008.2 C797.63,1004.68 801.78,1000.03 806.2,997.7 C810.62,995.37 816.47,994.65 820.3,994.2 C824.13,993.75 826.25,994.18 829.2,995 C832.15,995.82 834.18,997.77 838,999.1 C841.82,1000.43 847.98,1002.35 852.1,1003 C856.22,1003.65 858.28,1002.42 862.7,1003 C867.12,1003.58 873.3,1005.77 878.6,1006.5 C883.9,1007.23 888.62,1006.97 894.5,1007.4 C900.38,1007.83 908.6,1008.9 913.9,1009.1 C919.2,1009.3 920.42,1008.15 926.3,1008.6 C932.18,1009.05 942.43,1011.42 949.2,1011.8 C955.97,1012.18 962.18,1010.62 966.9,1010.9 C971.62,1011.18 974.57,1012.62 977.5,1013.5 C980.43,1014.38 980.75,1015.7 984.5,1016.2 C988.25,1016.7 995.65,1016.67 1000,1016.5 C1004.35,1016.33 1005.6,1015 1010.6,1015.2 C1015.6,1015.4 1022.93,1017.93 1030,1017.7 C1037.07,1017.47 1044.77,1014.65 1053,1013.8 C1061.23,1012.95 1072.63,1012.6 1079.4,1012.6 C1086.17,1012.6 1086.23,1012.87 1093.6,1013.8 C1100.97,1014.73 1113.6,1017.22 1123.6,1018.2 C1133.6,1019.18 1143.3,1019.78 1153.6,1019.7 C1163.9,1019.62 1175.57,1018.52 1185.4,1017.7 C1195.23,1016.88 1205.23,1016.22 1212.6,1014.8 C1219.97,1013.38 1224.43,1010.78 1229.6,1009.2 C1234.77,1007.62 1240.13,1005.97 1243.6,1005.3 C1247.07,1004.63 1246.55,1004.78 1250.4,1005.2 C1254.25,1005.62 1261.27,1007.25 1266.7,1007.8 C1272.13,1008.35 1276.82,1007.63 1283,1008.5 C1289.18,1009.37 1296.62,1011.63 1303.8,1013 C1310.98,1014.37 1318.68,1015.72 1326.1,1016.7 C1333.52,1017.68 1340.9,1018.17 1348.3,1018.9 C1355.7,1019.63 1361.72,1020.68 1370.5,1021.1 C1379.28,1021.52 1395.92,1021.35 1401,1021.4" fill="none" stroke="#000" stroke-width="3.5" stroke-linejoin="round" stroke-linecap="round"/>
<path d="M189.4,1189.2 C189.77,1194.28 190.85,1217.25 191.6,1219.7 C192.35,1222.15 192.95,1208.63 193.9,1203.9 C194.85,1199.17 196.35,1189.42 197.3,1191.3 C198.25,1193.18 198.8,1208.37 199.6,1215.2 C200.4,1222.03 201.27,1231.83 202.1,1232.3 C202.93,1232.77 203.8,1220.47 204.6,1218 C205.4,1215.53 205.95,1220.45 206.9,1217.5 C207.85,1214.55 209.35,1200.4 210.3,1200.3 C211.25,1200.2 211.85,1215.92 212.6,1216.9 C213.35,1217.88 214.15,1205.27 214.8,1206.2 C215.45,1207.13 215.65,1222.5 216.5,1222.5 C217.35,1222.5 218.87,1207.42 219.9,1206.2 C220.93,1204.98 221.77,1218.43 222.7,1215.2 C223.63,1211.97 224.65,1189.63 225.5,1186.8 C226.35,1183.97 227,1192.72 227.8,1198.2 C228.6,1203.68 229.45,1218.93 230.3,1219.7 C231.15,1220.47 232.08,1204.5 232.9,1202.8 C233.72,1201.1 234.55,1208.38 235.2,1209.5 C235.85,1210.62 236.25,1205.73 236.8,1209.5 C237.35,1213.27 237.93,1226.45 238.5,1232.1 C239.07,1237.75 239.53,1240.33 240.2,1243.4 C240.87,1246.47 241.55,1251.85 242.5,1250.5 C243.45,1249.15 244.97,1235.72 245.9,1235.3 C246.83,1234.88 247.35,1245.38 248.1,1248 C248.85,1250.62 249.55,1256 250.4,1251 C251.25,1246 252.35,1220.67 253.2,1218 C254.05,1215.33 254.65,1235.68 255.5,1235 C256.35,1234.32 257.37,1212.3 258.3,1213.9 C259.23,1215.5 260.1,1244.83 261.1,1244.6 C262.1,1244.37 263.35,1214.1 264.3,1212.5 C265.25,1210.9 266.02,1228.9 266.8,1235 C267.58,1241.1 267.97,1248.48 269,1249.1 C270.03,1249.72 271.77,1238.7 273,1238.7 C274.23,1238.7 275.37,1246.97 276.4,1249.1 C277.43,1251.23 277.98,1251.1 279.2,1251.5 C280.42,1251.9 282.38,1252.85 283.7,1251.5 C285.02,1250.15 286.07,1246 287.1,1243.4 C288.13,1240.8 288.95,1235.7 289.9,1235.9 C290.85,1236.1 291.85,1242.4 292.8,1244.6 C293.75,1246.8 294.28,1248.35 295.6,1249.1 C296.92,1249.85 299.2,1250.05 300.7,1249.1 C302.2,1248.15 303.57,1246.7 304.6,1243.4 C305.63,1240.1 306.23,1232.15 306.9,1229.3 C307.57,1226.45 307.95,1225.35 308.6,1226.3 C309.25,1227.25 310.15,1231.2 310.8,1235 C311.45,1238.8 311.93,1246.35 312.5,1249.1 C313.07,1251.85 309.62,1251.1 314.2,1251.5 C318.78,1251.9 334.88,1251.7 340,1251.5 C345.12,1251.3 343.73,1255.45 344.9,1250.3 C346.07,1245.15 346.35,1230.25 347,1220.6 C347.65,1210.95 348.22,1199.22 348.8,1192.4 C349.38,1185.58 349.85,1179.7 350.5,1179.7 C351.15,1179.7 351.98,1185.58 352.7,1192.4 C353.42,1199.22 354.17,1213.43 354.8,1220.6 C355.43,1227.77 355.8,1235.4 356.5,1235.4 C357.2,1235.4 358.35,1223.88 359,1220.6 C359.65,1217.32 359.75,1215.7 360.4,1215.7 C361.05,1215.7 362.13,1222.13 362.9,1220.6 C363.67,1219.07 364.3,1209.67 365,1206.5 C365.7,1203.33 366.38,1201.02 367.1,1201.6 C367.82,1202.18 368.65,1205.65 369.3,1210 C369.95,1214.35 370.37,1221.45 371,1227.7 C371.63,1233.95 372.27,1243.73 373.1,1247.5 C373.93,1251.27 374.23,1249.63 376,1250.3 C377.77,1250.97 381.58,1251.97 383.7,1251.5 C385.82,1251.03 387.17,1248.88 388.7,1247.5 C390.23,1246.12 391.62,1244.48 392.9,1243.2 C394.18,1241.92 395.33,1239.45 396.4,1239.8 C397.47,1240.15 398.35,1243.55 399.3,1245.3 C400.25,1247.05 399.87,1249.27 402.1,1250.3 C404.33,1251.33 408.23,1251.3 412.7,1251.5 C417.17,1251.7 425.87,1251.75 428.9,1251.5 C431.93,1251.25 430.25,1258.15 430.9,1250 C431.55,1241.85 432.15,1216.93 432.8,1202.6 C433.45,1188.27 434.15,1175.13 434.8,1164 C435.45,1152.87 436,1141.53 436.7,1135.8 C437.4,1130.07 438.15,1128.1 439,1129.6 C439.85,1131.1 441.02,1139.95 441.8,1144.8 C442.58,1149.65 442.95,1160.83 443.7,1158.7 C444.45,1156.57 445.43,1138.13 446.3,1132 C447.17,1125.87 448.03,1122.33 448.9,1121.9 C449.77,1121.47 450.65,1127.93 451.5,1129.4 C452.35,1130.87 453.15,1129.23 454,1130.7 C454.85,1132.17 455.85,1141.2 456.6,1138.2 C457.35,1135.2 457.87,1123.37 458.5,1112.7 C459.13,1102.03 459.75,1082.52 460.4,1074.2 C461.05,1065.88 461.65,1063.67 462.4,1062.8 C463.15,1061.93 464.05,1067.97 464.9,1069 C465.75,1070.03 466.75,1071.35 467.5,1069 C468.25,1066.65 468.77,1060.45 469.4,1054.9 C470.03,1049.35 470.72,1040.15 471.3,1035.7 C471.88,1031.25 472.35,1026.5 472.9,1028.2 C473.45,1029.9 474,1033.95 474.6,1045.9 C475.2,1057.85 475.87,1082.35 476.5,1099.9 C477.13,1117.45 477.77,1135.17 478.4,1151.2 C479.03,1167.23 479.65,1186.25 480.3,1196.1 C480.95,1205.95 481.22,1207.08 482.3,1210.3 C483.38,1213.52 485.2,1213.48 486.8,1215.4 C488.4,1217.32 489.7,1220.08 491.9,1221.8 C494.1,1223.52 497.07,1225.1 500,1225.7 C502.93,1226.3 507.1,1224.83 509.5,1225.4 C511.9,1225.97 511.93,1226.83 514.4,1229.1 C516.87,1231.37 521.42,1236.95 524.3,1239 C527.18,1241.05 529.08,1241 531.7,1241.4 C534.32,1241.8 537.52,1241.12 540,1241.4 C542.48,1241.68 544.4,1242.48 546.6,1243.1 C548.8,1243.72 551.57,1245.92 553.2,1245.1 C554.83,1244.28 555.45,1244.57 556.4,1238.2 C557.35,1231.83 558.07,1216.92 558.9,1206.9 C559.73,1196.88 560.65,1184.15 561.4,1178.1 C562.15,1172.05 562.65,1170.6 563.4,1170.6 C564.15,1170.6 565.13,1174.1 565.9,1178.1 C566.67,1182.1 567.38,1191.55 568,1194.6 C568.62,1197.65 568.92,1199.15 569.6,1196.4 C570.28,1193.65 571.28,1185.25 572.1,1178.1 C572.92,1170.95 573.63,1159.13 574.5,1153.5 C575.37,1147.87 576.47,1143.62 577.3,1144.3 C578.13,1144.98 578.8,1149.9 579.5,1157.6 C580.2,1165.3 580.75,1180.62 581.5,1190.5 C582.25,1200.38 583.17,1214.17 584,1216.9 C584.83,1219.63 585.75,1211.3 586.5,1206.9 C587.25,1202.5 587.87,1193.68 588.5,1190.5 C589.13,1187.32 589.62,1187.4 590.3,1187.8 C590.98,1188.2 591.67,1189.72 592.6,1192.9 C593.53,1196.08 594.8,1202.78 595.9,1206.9 C597,1211.02 598.1,1214.72 599.2,1217.6 C600.3,1220.48 601.53,1222.97 602.5,1224.2 C603.47,1225.43 603.77,1225.55 605,1225 C606.23,1224.45 608.27,1221.17 609.9,1220.9 C611.53,1220.63 613.43,1224.08 614.8,1223.4 C616.17,1222.72 616.93,1218.88 618.1,1216.8 C619.27,1214.72 620.57,1210.9 621.8,1210.9 C623.03,1210.9 624.2,1215 625.5,1216.8 C626.8,1218.6 628.22,1222.25 629.6,1221.7 C630.98,1221.15 632.57,1216.92 633.8,1213.5 C635.03,1210.08 636.22,1203.93 637,1201.2 C637.78,1198.47 637.65,1198.62 638.5,1197.1 C639.35,1195.58 640.68,1194.08 642.1,1192.1 C643.52,1190.12 645.6,1184.37 647,1185.2 C648.4,1186.03 649.38,1194.07 650.5,1197.1 C651.62,1200.13 652.75,1203.05 653.7,1203.4 C654.65,1203.75 655.32,1200.47 656.2,1199.2 C657.08,1197.93 658.07,1195.57 659,1195.8 C659.93,1196.03 660.85,1197.45 661.8,1200.6 C662.75,1203.75 663.63,1209.75 664.7,1214.7 C665.77,1219.65 667.03,1226.53 668.2,1230.3 C669.37,1234.07 670.28,1235.77 671.7,1237.3 C673.12,1238.83 674.82,1239.5 676.7,1239.5 C678.58,1239.5 681,1237.55 683,1237.3 C685,1237.05 686.58,1238.47 688.7,1238 C690.82,1237.53 693.35,1236.02 695.7,1234.5 C698.05,1232.98 700.8,1230.07 702.8,1228.9 C704.8,1227.73 706.05,1228.92 707.7,1227.5 C709.35,1226.08 710.7,1223.12 712.7,1220.4 C714.7,1217.68 717.82,1213.78 719.7,1211.2 C721.58,1208.62 722.7,1206.55 724,1204.9 C725.3,1203.25 726.22,1201.78 727.5,1201.3 C728.78,1200.82 730.28,1201.85 731.7,1202 C733.12,1202.15 734.38,1202.2 736,1202.2 C737.62,1202.2 738.85,1201.63 741.4,1202 C743.95,1202.37 748.2,1202.76 751.3,1204.4 C754.4,1206.04 757.73,1208.14 760,1211.84 C762.27,1215.55 762.88,1222.54 764.93,1226.65 C766.99,1230.76 768.64,1234.26 772.34,1236.52 C776.04,1238.78 781.79,1238.98 787.14,1240.22 C792.49,1241.45 799.48,1244.33 804.41,1243.92 C809.35,1243.51 812.64,1240.22 816.75,1237.75 C820.86,1235.28 825.79,1231.38 829.08,1229.12 C832.37,1226.85 832.79,1226.65 836.49,1224.18 C840.19,1221.71 846.77,1215.34 851.29,1214.31 C855.81,1213.28 859.93,1216.37 863.63,1218.01 C867.33,1219.66 869.38,1222.33 873.5,1224.18 C877.61,1226.03 883.37,1229.12 888.3,1229.12 C893.23,1229.12 897.76,1225.62 903.1,1224.18 C908.45,1222.74 915.44,1220.69 920.38,1220.48 C925.31,1220.27 928.19,1221.51 932.71,1222.95 C937.23,1224.39 942.99,1227.47 947.52,1229.12 C952.04,1230.76 954.09,1232.41 959.85,1232.82 C965.61,1233.23 975.07,1232.2 982.06,1231.58 C989.05,1230.97 995.63,1229.94 1001.8,1229.12 C1007.96,1228.29 1013.72,1226.85 1019.07,1226.65 C1024.41,1226.44 1029.35,1226.85 1033.87,1227.88 C1038.39,1228.91 1043.52,1231.46 1046.21,1232.82 C1048.9,1234.17 1045.06,1235.06 1050,1236.02 C1054.94,1236.99 1067.23,1239.04 1075.85,1238.61 C1084.46,1238.17 1093.08,1234.86 1101.69,1233.44 C1110.31,1232.01 1118.92,1230.08 1127.54,1230.08 C1136.15,1230.08 1146.49,1232.88 1153.39,1233.44 C1160.28,1234 1164.16,1234.94 1168.89,1233.44 C1173.63,1231.93 1177.08,1226.33 1181.82,1224.39 C1186.56,1222.45 1192.8,1221.59 1197.32,1221.81 C1201.85,1222.02 1204.86,1226.11 1208.96,1225.68 C1213.05,1225.25 1217.36,1218.79 1221.88,1219.22 C1226.4,1219.65 1231.57,1226.63 1236.09,1228.27 C1240.62,1229.9 1244.71,1229.26 1249.02,1229.04 C1253.33,1228.83 1257.2,1226.46 1261.94,1226.97 C1266.68,1227.49 1271.85,1231.28 1277.45,1232.14 C1283.05,1233.01 1288.22,1231.5 1295.54,1232.14 C1302.86,1232.79 1312.77,1234.94 1321.39,1236.02 C1330,1237.1 1338.62,1238.39 1347.23,1238.61 C1355.85,1238.82 1364.03,1237.74 1373.08,1237.31 C1382.13,1236.88 1396.77,1236.24 1401.51,1236.02" fill="none" stroke="#7a7a7a" stroke-opacity="0.85" stroke-width="8.6" stroke-linejoin="round" stroke-linecap="round" filter="url(#bl1)"/>
<path d="M189.4,1189.2 C189.77,1194.28 190.85,1217.25 191.6,1219.7 C192.35,1222.15 192.95,1208.63 193.9,1203.9 C194.85,1199.17 196.35,1189.42 197.3,1191.3 C198.25,1193.18 198.8,1208.37 199.6,1215.2 C200.4,1222.03 201.27,1231.83 202.1,1232.3 C202.93,1232.77 203.8,1220.47 204.6,1218 C205.4,1215.53 205.95,1220.45 206.9,1217.5 C207.85,1214.55 209.35,1200.4 210.3,1200.3 C211.25,1200.2 211.85,1215.92 212.6,1216.9 C213.35,1217.88 214.15,1205.27 214.8,1206.2 C215.45,1207.13 215.65,1222.5 216.5,1222.5 C217.35,1222.5 218.87,1207.42 219.9,1206.2 C220.93,1204.98 221.77,1218.43 222.7,1215.2 C223.63,1211.97 224.65,1189.63 225.5,1186.8 C226.35,1183.97 227,1192.72 227.8,1198.2 C228.6,1203.68 229.45,1218.93 230.3,1219.7 C231.15,1220.47 232.08,1204.5 232.9,1202.8 C233.72,1201.1 234.55,1208.38 235.2,1209.5 C235.85,1210.62 236.25,1205.73 236.8,1209.5 C237.35,1213.27 237.93,1226.45 238.5,1232.1 C239.07,1237.75 239.53,1240.33 240.2,1243.4 C240.87,1246.47 241.55,1251.85 242.5,1250.5 C243.45,1249.15 244.97,1235.72 245.9,1235.3 C246.83,1234.88 247.35,1245.38 248.1,1248 C248.85,1250.62 249.55,1256 250.4,1251 C251.25,1246 252.35,1220.67 253.2,1218 C254.05,1215.33 254.65,1235.68 255.5,1235 C256.35,1234.32 257.37,1212.3 258.3,1213.9 C259.23,1215.5 260.1,1244.83 261.1,1244.6 C262.1,1244.37 263.35,1214.1 264.3,1212.5 C265.25,1210.9 266.02,1228.9 266.8,1235 C267.58,1241.1 267.97,1248.48 269,1249.1 C270.03,1249.72 271.77,1238.7 273,1238.7 C274.23,1238.7 275.37,1246.97 276.4,1249.1 C277.43,1251.23 277.98,1251.1 279.2,1251.5 C280.42,1251.9 282.38,1252.85 283.7,1251.5 C285.02,1250.15 286.07,1246 287.1,1243.4 C288.13,1240.8 288.95,1235.7 289.9,1235.9 C290.85,1236.1 291.85,1242.4 292.8,1244.6 C293.75,1246.8 294.28,1248.35 295.6,1249.1 C296.92,1249.85 299.2,1250.05 300.7,1249.1 C302.2,1248.15 303.57,1246.7 304.6,1243.4 C305.63,1240.1 306.23,1232.15 306.9,1229.3 C307.57,1226.45 307.95,1225.35 308.6,1226.3 C309.25,1227.25 310.15,1231.2 310.8,1235 C311.45,1238.8 311.93,1246.35 312.5,1249.1 C313.07,1251.85 309.62,1251.1 314.2,1251.5 C318.78,1251.9 334.88,1251.7 340,1251.5 C345.12,1251.3 343.73,1255.45 344.9,1250.3 C346.07,1245.15 346.35,1230.25 347,1220.6 C347.65,1210.95 348.22,1199.22 348.8,1192.4 C349.38,1185.58 349.85,1179.7 350.5,1179.7 C351.15,1179.7 351.98,1185.58 352.7,1192.4 C353.42,1199.22 354.17,1213.43 354.8,1220.6 C355.43,1227.77 355.8,1235.4 356.5,1235.4 C357.2,1235.4 358.35,1223.88 359,1220.6 C359.65,1217.32 359.75,1215.7 360.4,1215.7 C361.05,1215.7 362.13,1222.13 362.9,1220.6 C363.67,1219.07 364.3,1209.67 365,1206.5 C365.7,1203.33 366.38,1201.02 367.1,1201.6 C367.82,1202.18 368.65,1205.65 369.3,1210 C369.95,1214.35 370.37,1221.45 371,1227.7 C371.63,1233.95 372.27,1243.73 373.1,1247.5 C373.93,1251.27 374.23,1249.63 376,1250.3 C377.77,1250.97 381.58,1251.97 383.7,1251.5 C385.82,1251.03 387.17,1248.88 388.7,1247.5 C390.23,1246.12 391.62,1244.48 392.9,1243.2 C394.18,1241.92 395.33,1239.45 396.4,1239.8 C397.47,1240.15 398.35,1243.55 399.3,1245.3 C400.25,1247.05 399.87,1249.27 402.1,1250.3 C404.33,1251.33 408.23,1251.3 412.7,1251.5 C417.17,1251.7 425.87,1251.75 428.9,1251.5 C431.93,1251.25 430.25,1258.15 430.9,1250 C431.55,1241.85 432.15,1216.93 432.8,1202.6 C433.45,1188.27 434.15,1175.13 434.8,1164 C435.45,1152.87 436,1141.53 436.7,1135.8 C437.4,1130.07 438.15,1128.1 439,1129.6 C439.85,1131.1 441.02,1139.95 441.8,1144.8 C442.58,1149.65 442.95,1160.83 443.7,1158.7 C444.45,1156.57 445.43,1138.13 446.3,1132 C447.17,1125.87 448.03,1122.33 448.9,1121.9 C449.77,1121.47 450.65,1127.93 451.5,1129.4 C452.35,1130.87 453.15,1129.23 454,1130.7 C454.85,1132.17 455.85,1141.2 456.6,1138.2 C457.35,1135.2 457.87,1123.37 458.5,1112.7 C459.13,1102.03 459.75,1082.52 460.4,1074.2 C461.05,1065.88 461.65,1063.67 462.4,1062.8 C463.15,1061.93 464.05,1067.97 464.9,1069 C465.75,1070.03 466.75,1071.35 467.5,1069 C468.25,1066.65 468.77,1060.45 469.4,1054.9 C470.03,1049.35 470.72,1040.15 471.3,1035.7 C471.88,1031.25 472.35,1026.5 472.9,1028.2 C473.45,1029.9 474,1033.95 474.6,1045.9 C475.2,1057.85 475.87,1082.35 476.5,1099.9 C477.13,1117.45 477.77,1135.17 478.4,1151.2 C479.03,1167.23 479.65,1186.25 480.3,1196.1 C480.95,1205.95 481.22,1207.08 482.3,1210.3 C483.38,1213.52 485.2,1213.48 486.8,1215.4 C488.4,1217.32 489.7,1220.08 491.9,1221.8 C494.1,1223.52 497.07,1225.1 500,1225.7 C502.93,1226.3 507.1,1224.83 509.5,1225.4 C511.9,1225.97 511.93,1226.83 514.4,1229.1 C516.87,1231.37 521.42,1236.95 524.3,1239 C527.18,1241.05 529.08,1241 531.7,1241.4 C534.32,1241.8 537.52,1241.12 540,1241.4 C542.48,1241.68 544.4,1242.48 546.6,1243.1 C548.8,1243.72 551.57,1245.92 553.2,1245.1 C554.83,1244.28 555.45,1244.57 556.4,1238.2 C557.35,1231.83 558.07,1216.92 558.9,1206.9 C559.73,1196.88 560.65,1184.15 561.4,1178.1 C562.15,1172.05 562.65,1170.6 563.4,1170.6 C564.15,1170.6 565.13,1174.1 565.9,1178.1 C566.67,1182.1 567.38,1191.55 568,1194.6 C568.62,1197.65 568.92,1199.15 569.6,1196.4 C570.28,1193.65 571.28,1185.25 572.1,1178.1 C572.92,1170.95 573.63,1159.13 574.5,1153.5 C575.37,1147.87 576.47,1143.62 577.3,1144.3 C578.13,1144.98 578.8,1149.9 579.5,1157.6 C580.2,1165.3 580.75,1180.62 581.5,1190.5 C582.25,1200.38 583.17,1214.17 584,1216.9 C584.83,1219.63 585.75,1211.3 586.5,1206.9 C587.25,1202.5 587.87,1193.68 588.5,1190.5 C589.13,1187.32 589.62,1187.4 590.3,1187.8 C590.98,1188.2 591.67,1189.72 592.6,1192.9 C593.53,1196.08 594.8,1202.78 595.9,1206.9 C597,1211.02 598.1,1214.72 599.2,1217.6 C600.3,1220.48 601.53,1222.97 602.5,1224.2 C603.47,1225.43 603.77,1225.55 605,1225 C606.23,1224.45 608.27,1221.17 609.9,1220.9 C611.53,1220.63 613.43,1224.08 614.8,1223.4 C616.17,1222.72 616.93,1218.88 618.1,1216.8 C619.27,1214.72 620.57,1210.9 621.8,1210.9 C623.03,1210.9 624.2,1215 625.5,1216.8 C626.8,1218.6 628.22,1222.25 629.6,1221.7 C630.98,1221.15 632.57,1216.92 633.8,1213.5 C635.03,1210.08 636.22,1203.93 637,1201.2 C637.78,1198.47 637.65,1198.62 638.5,1197.1 C639.35,1195.58 640.68,1194.08 642.1,1192.1 C643.52,1190.12 645.6,1184.37 647,1185.2 C648.4,1186.03 649.38,1194.07 650.5,1197.1 C651.62,1200.13 652.75,1203.05 653.7,1203.4 C654.65,1203.75 655.32,1200.47 656.2,1199.2 C657.08,1197.93 658.07,1195.57 659,1195.8 C659.93,1196.03 660.85,1197.45 661.8,1200.6 C662.75,1203.75 663.63,1209.75 664.7,1214.7 C665.77,1219.65 667.03,1226.53 668.2,1230.3 C669.37,1234.07 670.28,1235.77 671.7,1237.3 C673.12,1238.83 674.82,1239.5 676.7,1239.5 C678.58,1239.5 681,1237.55 683,1237.3 C685,1237.05 686.58,1238.47 688.7,1238 C690.82,1237.53 693.35,1236.02 695.7,1234.5 C698.05,1232.98 700.8,1230.07 702.8,1228.9 C704.8,1227.73 706.05,1228.92 707.7,1227.5 C709.35,1226.08 710.7,1223.12 712.7,1220.4 C714.7,1217.68 717.82,1213.78 719.7,1211.2 C721.58,1208.62 722.7,1206.55 724,1204.9 C725.3,1203.25 726.22,1201.78 727.5,1201.3 C728.78,1200.82 730.28,1201.85 731.7,1202 C733.12,1202.15 734.38,1202.2 736,1202.2 C737.62,1202.2 738.85,1201.63 741.4,1202 C743.95,1202.37 748.2,1202.76 751.3,1204.4 C754.4,1206.04 757.73,1208.14 760,1211.84 C762.27,1215.55 762.88,1222.54 764.93,1226.65 C766.99,1230.76 768.64,1234.26 772.34,1236.52 C776.04,1238.78 781.79,1238.98 787.14,1240.22 C792.49,1241.45 799.48,1244.33 804.41,1243.92 C809.35,1243.51 812.64,1240.22 816.75,1237.75 C820.86,1235.28 825.79,1231.38 829.08,1229.12 C832.37,1226.85 832.79,1226.65 836.49,1224.18 C840.19,1221.71 846.77,1215.34 851.29,1214.31 C855.81,1213.28 859.93,1216.37 863.63,1218.01 C867.33,1219.66 869.38,1222.33 873.5,1224.18 C877.61,1226.03 883.37,1229.12 888.3,1229.12 C893.23,1229.12 897.76,1225.62 903.1,1224.18 C908.45,1222.74 915.44,1220.69 920.38,1220.48 C925.31,1220.27 928.19,1221.51 932.71,1222.95 C937.23,1224.39 942.99,1227.47 947.52,1229.12 C952.04,1230.76 954.09,1232.41 959.85,1232.82 C965.61,1233.23 975.07,1232.2 982.06,1231.58 C989.05,1230.97 995.63,1229.94 1001.8,1229.12 C1007.96,1228.29 1013.72,1226.85 1019.07,1226.65 C1024.41,1226.44 1029.35,1226.85 1033.87,1227.88 C1038.39,1228.91 1043.52,1231.46 1046.21,1232.82 C1048.9,1234.17 1045.06,1235.06 1050,1236.02 C1054.94,1236.99 1067.23,1239.04 1075.85,1238.61 C1084.46,1238.17 1093.08,1234.86 1101.69,1233.44 C1110.31,1232.01 1118.92,1230.08 1127.54,1230.08 C1136.15,1230.08 1146.49,1232.88 1153.39,1233.44 C1160.28,1234 1164.16,1234.94 1168.89,1233.44 C1173.63,1231.93 1177.08,1226.33 1181.82,1224.39 C1186.56,1222.45 1192.8,1221.59 1197.32,1221.81 C1201.85,1222.02 1204.86,1226.11 1208.96,1225.68 C1213.05,1225.25 1217.36,1218.79 1221.88,1219.22 C1226.4,1219.65 1231.57,1226.63 1236.09,1228.27 C1240.62,1229.9 1244.71,1229.26 1249.02,1229.04 C1253.33,1228.83 1257.2,1226.46 1261.94,1226.97 C1266.68,1227.49 1271.85,1231.28 1277.45,1232.14 C1283.05,1233.01 1288.22,1231.5 1295.54,1232.14 C1302.86,1232.79 1312.77,1234.94 1321.39,1236.02 C1330,1237.1 1338.62,1238.39 1347.23,1238.61 C1355.85,1238.82 1364.03,1237.74 1373.08,1237.31 C1382.13,1236.88 1396.77,1236.24 1401.51,1236.02" fill="none" stroke="#000" stroke-width="3.5" stroke-linejoin="round" stroke-linecap="round"/>
</g>
<rect x="186" y="790.7" width="1218.7" height="465.7" fill="none" stroke="#000" stroke-width="6.4"/>
<line x1="186" y1="1256.4" x2="186" y2="1269.9" stroke="#000" stroke-width="5.6" stroke-linecap="round"/>
<text transform="translate(175.66 1310.75) scale(1.0450 1)" font-size="35.59" fill="#000">0</text>
<line x1="251.56" y1="1256.4" x2="251.56" y2="1269.9" stroke="#000" stroke-width="5.6" stroke-linecap="round"/>
<line x1="317.11" y1="1256.4" x2="317.11" y2="1269.9" stroke="#000" stroke-width="5.6" stroke-linecap="round"/>
<text transform="translate(296.32 1310.75) scale(1.0494 1)" font-size="35.59" fill="#000">50</text>
<line x1="382.66" y1="1256.4" x2="382.66" y2="1269.9" stroke="#000" stroke-width="5.6" stroke-linecap="round"/>
<line x1="448.22" y1="1256.4" x2="448.22" y2="1269.9" stroke="#000" stroke-width="5.6" stroke-linecap="round"/>
<text transform="translate(416 1310.75) scale(1.0616 1)" font-size="35.59" fill="#000">100</text>
<line x1="513.77" y1="1256.4" x2="513.77" y2="1269.9" stroke="#000" stroke-width="5.6" stroke-linecap="round"/>
<line x1="579.33" y1="1256.4" x2="579.33" y2="1269.9" stroke="#000" stroke-width="5.6" stroke-linecap="round"/>
<text transform="translate(547.11 1310.75) scale(1.0616 1)" font-size="35.59" fill="#000">150</text>
<line x1="644.88" y1="1256.4" x2="644.88" y2="1269.9" stroke="#000" stroke-width="5.6" stroke-linecap="round"/>
<line x1="710.44" y1="1256.4" x2="710.44" y2="1269.9" stroke="#000" stroke-width="5.6" stroke-linecap="round"/>
<text transform="translate(678.58 1310.75) scale(1.0659 1)" font-size="35.59" fill="#000">200</text>
<line x1="776" y1="1256.4" x2="776" y2="1269.9" stroke="#000" stroke-width="5.6" stroke-linecap="round"/>
<line x1="841.55" y1="1256.4" x2="841.55" y2="1269.9" stroke="#000" stroke-width="5.6" stroke-linecap="round"/>
<text transform="translate(809.69 1310.75) scale(1.0659 1)" font-size="35.59" fill="#000">250</text>
<line x1="907.11" y1="1256.4" x2="907.11" y2="1269.9" stroke="#000" stroke-width="5.6" stroke-linecap="round"/>
<line x1="972.66" y1="1256.4" x2="972.66" y2="1269.9" stroke="#000" stroke-width="5.6" stroke-linecap="round"/>
<text transform="translate(941.32 1310.75) scale(1.0560 1)" font-size="35.59" fill="#000">300</text>
<line x1="1038.21" y1="1256.4" x2="1038.21" y2="1269.9" stroke="#000" stroke-width="5.6" stroke-linecap="round"/>
<line x1="1103.77" y1="1256.4" x2="1103.77" y2="1269.9" stroke="#000" stroke-width="5.6" stroke-linecap="round"/>
<text transform="translate(1072.43 1310.75) scale(1.0560 1)" font-size="35.59" fill="#000">350</text>
<line x1="1169.32" y1="1256.4" x2="1169.32" y2="1269.9" stroke="#000" stroke-width="5.6" stroke-linecap="round"/>
<line x1="1234.88" y1="1256.4" x2="1234.88" y2="1269.9" stroke="#000" stroke-width="5.6" stroke-linecap="round"/>
<text transform="translate(1203.65 1310.75) scale(1.0620 1)" font-size="35.59" fill="#000">400</text>
<line x1="1300.43" y1="1256.4" x2="1300.43" y2="1269.9" stroke="#000" stroke-width="5.6" stroke-linecap="round"/>
<line x1="1365.99" y1="1256.4" x2="1365.99" y2="1269.9" stroke="#000" stroke-width="5.6" stroke-linecap="round"/>
<text transform="translate(1334.76 1310.75) scale(1.0620 1)" font-size="35.59" fill="#000">450</text>
<text transform="translate(653.19 1369.3) scale(1.0879 1)" font-size="42.73" fill="#000">Energy [meV]</text>
<text transform="translate(5.59 792.84) scale(1.3296 1)" font-size="48.49" fill="#000" font-weight="bold">(b)</text>
<text transform="translate(133.6 1063.52) rotate(-90) scale(1.0457 1)" font-size="42.44" fill="#000">S(E)</text>
<line x1="802.1" y1="945.7" x2="881.3" y2="945.7" stroke="#000" stroke-width="3.3"/>
<text transform="translate(901.23 958.9) scale(1.0825 1)" font-size="35.32" fill="#000">AIMD 10 K (Total)</text>
<line x1="802.1" y1="1113.4" x2="881.3" y2="1113.4" stroke="#000" stroke-width="3.3"/>
<text transform="translate(900.17 1126.1) scale(1.0242 1)" font-size="36.05" fill="#000">DFPT 0K (Total)</text>
<rect x="802" y="1154.4" width="79.3" height="15.6" fill="#7f7f7f"/>
<rect x="802" y="1154.4" width="79.3" height="3.4" fill="#4a4a4a"/>
<text transform="translate(900.1 1175) scale(1.0533 1)" font-size="35.9" fill="#000">HLD 0 K (Fundamentals)</text>
<rect x="193" y="1411.5" width="8.9" height="399.5" fill="#c40a0a"/>
<rect x="193" y="1411.5" width="8.9" height="1.3" fill="#124a91"/>
<polygon points="193,1811 193,1426.8 195.5,1426.8 195.5,1423.3 201.9,1423.3 201.9,1811" fill="#333333"/>
<rect x="208.4" y="1411.5" width="31.7" height="399.5" fill="#c40a0a"/>
<polygon points="208.4,1411.5 240.1,1411.5 240.1,1422.7 226,1422.7 224.5,1426 223,1420.5 208.4,1419.6" fill="#124a91"/>
<polygon points="208.4,1811 208.4,1529.5 210.9,1529.5 210.9,1546.8 213.1,1546.8 213.1,1683.8 216.9,1683.8 216.9,1697.9 220.6,1697.9 220.6,1785.3 223.4,1785.3 223.4,1811 224.9,1811 224.9,1811 228.2,1811 228.2,1782 229.7,1782 229.7,1728.1 240.1,1728.1 240.1,1811" fill="#333333"/>
<rect x="223.6" y="1636.3" width="1.1" height="174.7" fill="#6a2020"/>
<rect x="249.8" y="1411.5" width="6.4" height="11.2" fill="#124a91"/>
<rect x="249.8" y="1422.7" width="6.4" height="388.3" fill="#c40a0a"/>
<rect x="259.5" y="1411.5" width="8.2" height="30.6" fill="#124a91"/>
<rect x="259.5" y="1442.1" width="8.2" height="2.8" fill="#c40a0a"/>
<rect x="259.5" y="1444.9" width="8.2" height="366.1" fill="#333333"/>
<rect x="304" y="1411.5" width="8.4" height="1.5" fill="#124a91"/>
<rect x="304" y="1413" width="8.4" height="398" fill="#c40a0a"/>
<rect x="345.8" y="1411.5" width="7.2" height="372.7" fill="#124a91"/>
<rect x="345.8" y="1784.2" width="7.2" height="26.8" fill="#333333"/>
<rect x="363.5" y="1411.5" width="7.5" height="399.5" fill="#124a91"/>
<rect x="382.8" y="1411.5" width="16.6" height="399.5" fill="#124a91"/>
<rect x="432.2" y="1411.5" width="45.3" height="399.5" fill="#124a91"/>
<rect x="439.4" y="1805.5" width="4.6" height="5.5" fill="#333333"/>
<rect x="444" y="1800.2" width="18.2" height="10.8" fill="#c40a0a"/>
<rect x="470.3" y="1802" width="7.2" height="9" fill="#c40a0a"/>
<rect x="560.2" y="1411.5" width="6.7" height="399.5" fill="#124a91"/>
<rect x="572.8" y="1411.5" width="7.8" height="399.5" fill="#124a91"/>
<rect x="583.8" y="1411.5" width="8.1" height="399.5" fill="#124a91"/>
<rect x="632.1" y="1411.5" width="19.4" height="399.5" fill="#124a91"/>
<rect x="642" y="1803" width="9.5" height="8" fill="#c40a0a"/>
<rect x="653" y="1411.5" width="11.4" height="399.5" fill="#124a91"/>
<rect x="1175.7" y="1411.5" width="7" height="399.5" fill="#124a91"/>
<rect x="1188.2" y="1411.5" width="11.5" height="399.5" fill="#124a91"/>
<rect x="1214.8" y="1411.5" width="11.1" height="399.5" fill="#124a91"/>
<rect x="1255.3" y="1411.5" width="13.3" height="399.5" fill="#124a91"/>
<rect x="186" y="1407" width="1218.7" height="409.2" fill="none" stroke="#000" stroke-width="6.4"/>
<rect x="186.2" y="1411.5" width="2.1" height="399.5" fill="#333333"/>
<line x1="186" y1="1816.2" x2="186" y2="1829.7" stroke="#000" stroke-width="5.6" stroke-linecap="round"/>
<text transform="translate(175.66 1870.55) scale(1.0450 1)" font-size="35.59" fill="#000">0</text>
<line x1="251.56" y1="1816.2" x2="251.56" y2="1829.7" stroke="#000" stroke-width="5.6" stroke-linecap="round"/>
<line x1="317.11" y1="1816.2" x2="317.11" y2="1829.7" stroke="#000" stroke-width="5.6" stroke-linecap="round"/>
<text transform="translate(296.32 1870.55) scale(1.0494 1)" font-size="35.59" fill="#000">50</text>
<line x1="382.66" y1="1816.2" x2="382.66" y2="1829.7" stroke="#000" stroke-width="5.6" stroke-linecap="round"/>
<line x1="448.22" y1="1816.2" x2="448.22" y2="1829.7" stroke="#000" stroke-width="5.6" stroke-linecap="round"/>
<text transform="translate(416 1870.55) scale(1.0616 1)" font-size="35.59" fill="#000">100</text>
<line x1="513.77" y1="1816.2" x2="513.77" y2="1829.7" stroke="#000" stroke-width="5.6" stroke-linecap="round"/>
<line x1="579.33" y1="1816.2" x2="579.33" y2="1829.7" stroke="#000" stroke-width="5.6" stroke-linecap="round"/>
<text transform="translate(547.11 1870.55) scale(1.0616 1)" font-size="35.59" fill="#000">150</text>
<line x1="644.88" y1="1816.2" x2="644.88" y2="1829.7" stroke="#000" stroke-width="5.6" stroke-linecap="round"/>
<line x1="710.44" y1="1816.2" x2="710.44" y2="1829.7" stroke="#000" stroke-width="5.6" stroke-linecap="round"/>
<text transform="translate(678.58 1870.55) scale(1.0659 1)" font-size="35.59" fill="#000">200</text>
<line x1="776" y1="1816.2" x2="776" y2="1829.7" stroke="#000" stroke-width="5.6" stroke-linecap="round"/>
<line x1="841.55" y1="1816.2" x2="841.55" y2="1829.7" stroke="#000" stroke-width="5.6" stroke-linecap="round"/>
<text transform="translate(809.69 1870.55) scale(1.0659 1)" font-size="35.59" fill="#000">250</text>
<line x1="907.11" y1="1816.2" x2="907.11" y2="1829.7" stroke="#000" stroke-width="5.6" stroke-linecap="round"/>
<line x1="972.66" y1="1816.2" x2="972.66" y2="1829.7" stroke="#000" stroke-width="5.6" stroke-linecap="round"/>
<text transform="translate(941.32 1870.55) scale(1.0560 1)" font-size="35.59" fill="#000">300</text>
<line x1="1038.21" y1="1816.2" x2="1038.21" y2="1829.7" stroke="#000" stroke-width="5.6" stroke-linecap="round"/>
<line x1="1103.77" y1="1816.2" x2="1103.77" y2="1829.7" stroke="#000" stroke-width="5.6" stroke-linecap="round"/>
<text transform="translate(1072.43 1870.55) scale(1.0560 1)" font-size="35.59" fill="#000">350</text>
<line x1="1169.32" y1="1816.2" x2="1169.32" y2="1829.7" stroke="#000" stroke-width="5.6" stroke-linecap="round"/>
<line x1="1234.88" y1="1816.2" x2="1234.88" y2="1829.7" stroke="#000" stroke-width="5.6" stroke-linecap="round"/>
<text transform="translate(1203.65 1870.55) scale(1.0620 1)" font-size="35.59" fill="#000">400</text>
<line x1="1300.43" y1="1816.2" x2="1300.43" y2="1829.7" stroke="#000" stroke-width="5.6" stroke-linecap="round"/>
<line x1="1365.99" y1="1816.2" x2="1365.99" y2="1829.7" stroke="#000" stroke-width="5.6" stroke-linecap="round"/>
<text transform="translate(1334.76 1870.55) scale(1.0620 1)" font-size="35.59" fill="#000">450</text>
<text transform="translate(653.19 1928.6) scale(1.0879 1)" font-size="42.73" fill="#000">Energy [meV]</text>
<line x1="186" y1="1816.2" x2="172.8" y2="1816.2" stroke="#000" stroke-width="5.6" stroke-linecap="round"/>
<text transform="translate(137.37 1828.95) scale(1.0450 1)" font-size="35.59" fill="#000">0</text>
<line x1="186" y1="1775.28" x2="172.8" y2="1775.28" stroke="#000" stroke-width="5.6" stroke-linecap="round"/>
<line x1="186" y1="1734.36" x2="172.8" y2="1734.36" stroke="#000" stroke-width="5.6" stroke-linecap="round"/>
<text transform="translate(115.97 1747.11) scale(1.0635 1)" font-size="35.59" fill="#000">20</text>
<line x1="186" y1="1693.44" x2="172.8" y2="1693.44" stroke="#000" stroke-width="5.6" stroke-linecap="round"/>
<line x1="186" y1="1652.52" x2="172.8" y2="1652.52" stroke="#000" stroke-width="5.6" stroke-linecap="round"/>
<text transform="translate(116.2 1665.27) scale(1.0576 1)" font-size="35.59" fill="#000">40</text>
<line x1="186" y1="1611.6" x2="172.8" y2="1611.6" stroke="#000" stroke-width="5.6" stroke-linecap="round"/>
<line x1="186" y1="1570.68" x2="172.8" y2="1570.68" stroke="#000" stroke-width="5.6" stroke-linecap="round"/>
<text transform="translate(115.83 1583.43) scale(1.0672 1)" font-size="35.59" fill="#000">60</text>
<line x1="186" y1="1529.76" x2="172.8" y2="1529.76" stroke="#000" stroke-width="5.6" stroke-linecap="round"/>
<line x1="186" y1="1488.84" x2="172.8" y2="1488.84" stroke="#000" stroke-width="5.6" stroke-linecap="round"/>
<text transform="translate(116.06 1501.59) scale(1.0613 1)" font-size="35.59" fill="#000">80</text>
<line x1="186" y1="1447.92" x2="172.8" y2="1447.92" stroke="#000" stroke-width="5.6" stroke-linecap="round"/>
<line x1="186" y1="1407" x2="172.8" y2="1407" stroke="#000" stroke-width="5.6" stroke-linecap="round"/>
<text transform="translate(95.03 1419.75) scale(1.0616 1)" font-size="35.59" fill="#000">100</text>
<text transform="translate(5.34 1347.18) scale(1.3406 1)" font-size="47.31" fill="#000" font-weight="bold">(c)</text>
<text transform="translate(73.1 1764.46) rotate(-90) scale(1.0818 1)" font-size="43.11" fill="#000">% Contribution</text>
<text transform="translate(802.73 1509.6) scale(1.0710 1)" font-size="35.18" fill="#000">Vibrational Energy</text>
<text transform="translate(799.74 1561.7) scale(1.0936 1)" font-size="35.18" fill="#000">Decomposition (Γ)</text>
<line x1="805.4" y1="1608" x2="880" y2="1608" stroke="#000" stroke-width="7.2"/>
<line x1="805.4" y1="1654.5" x2="880" y2="1654.5" stroke="#c40a0a" stroke-width="7.2"/>
<line x1="805.4" y1="1700.3" x2="880" y2="1700.3" stroke="#0f4a8f" stroke-width="7.2"/>
<text transform="translate(897.4 1620.7) scale(1.1077 1)" font-size="32.12" fill="#000">Translation</text>
<text transform="translate(896.56 1666) scale(1.1379 1)" font-size="31.54" fill="#000">Rotation</text>
<text transform="translate(899.34 1712.5) scale(1.0867 1)" font-size="32.7" fill="#000">Vibration</text>
</svg>
</body></html>
